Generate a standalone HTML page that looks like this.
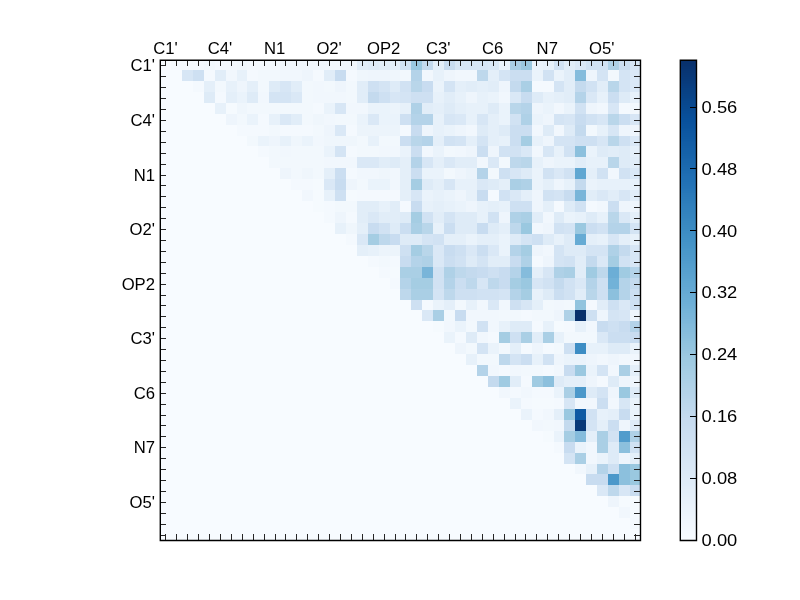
<!DOCTYPE html>
<html><head><meta charset="utf-8"><style>
html,body{margin:0;padding:0;background:#fff;width:800px;height:600px;overflow:hidden}
svg{display:block}
text{font-family:"Liberation Sans",sans-serif;font-size:16.67px;fill:#000}
</style></head><body>
<svg width="800" height="600" viewBox="0 0 800 600" shape-rendering="crispEdges">
<rect x="160" y="60" width="480" height="480" fill="#f7fbff"/>
<rect x="171" y="60" width="33" height="10" fill="#f4f9fe"/><rect x="204" y="60" width="11" height="10" fill="#f2f8fd"/><rect x="215" y="60" width="22" height="10" fill="#f4f9fe"/><rect x="237" y="60" width="10" height="10" fill="#f2f8fd"/><rect x="247" y="60" width="33" height="10" fill="#f4f9fe"/><rect x="280" y="60" width="77" height="10" fill="#f1f7fd"/><rect x="357" y="60" width="11" height="10" fill="#e1edf8"/><rect x="368" y="60" width="11" height="10" fill="#deebf7"/><rect x="379" y="60" width="11" height="10" fill="#e1edf8"/><rect x="390" y="60" width="10" height="10" fill="#e4eff9"/><rect x="400" y="60" width="11" height="10" fill="#d1e2f3"/><rect x="411" y="60" width="11" height="10" fill="#9ac8e0"/><rect x="422" y="60" width="11" height="10" fill="#c4daee"/><rect x="433" y="60" width="11" height="10" fill="#e4eff9"/><rect x="444" y="60" width="11" height="10" fill="#c8dcf0"/><rect x="455" y="60" width="33" height="10" fill="#d7e6f5"/><rect x="488" y="60" width="11" height="10" fill="#dae8f6"/><rect x="499" y="60" width="11" height="10" fill="#eaf3fb"/><rect x="510" y="60" width="11" height="10" fill="#aacfe5"/><rect x="521" y="60" width="11" height="10" fill="#9ac8e0"/><rect x="532" y="60" width="11" height="10" fill="#eaf3fb"/><rect x="543" y="60" width="11" height="10" fill="#e7f1fa"/><rect x="554" y="60" width="10" height="10" fill="#d1e2f3"/><rect x="564" y="60" width="11" height="10" fill="#e1edf8"/><rect x="575" y="60" width="11" height="10" fill="#dae8f6"/><rect x="586" y="60" width="22" height="10" fill="#d1e2f3"/><rect x="608" y="60" width="11" height="10" fill="#afd1e7"/><rect x="619" y="60" width="11" height="10" fill="#cbdef1"/><rect x="630" y="60" width="10" height="10" fill="#d7e6f5"/><rect x="182" y="70" width="11" height="11" fill="#d7e6f5"/><rect x="193" y="70" width="11" height="11" fill="#cee0f2"/><rect x="204" y="70" width="11" height="11" fill="#f4f9fe"/><rect x="215" y="70" width="11" height="11" fill="#e1edf8"/><rect x="226" y="70" width="11" height="11" fill="#f1f7fd"/><rect x="237" y="70" width="10" height="11" fill="#e7f1fa"/><rect x="247" y="70" width="11" height="11" fill="#f4f9fe"/><rect x="258" y="70" width="22" height="11" fill="#f2f8fd"/><rect x="280" y="70" width="22" height="11" fill="#f1f7fd"/><rect x="302" y="70" width="11" height="11" fill="#eef5fc"/><rect x="313" y="70" width="11" height="11" fill="#f4f9fe"/><rect x="324" y="70" width="11" height="11" fill="#e1edf8"/><rect x="335" y="70" width="11" height="11" fill="#c8dcf0"/><rect x="346" y="70" width="11" height="11" fill="#f4f9fe"/><rect x="357" y="70" width="11" height="11" fill="#eff6fc"/><rect x="368" y="70" width="22" height="11" fill="#eef5fc"/><rect x="390" y="70" width="10" height="11" fill="#eff6fc"/><rect x="400" y="70" width="11" height="11" fill="#f2f8fd"/><rect x="411" y="70" width="11" height="11" fill="#b4d3e9"/><rect x="422" y="70" width="11" height="11" fill="#f1f7fd"/><rect x="433" y="70" width="11" height="11" fill="#e7f1fa"/><rect x="444" y="70" width="11" height="11" fill="#eef5fc"/><rect x="455" y="70" width="22" height="11" fill="#f1f7fd"/><rect x="477" y="70" width="11" height="11" fill="#bed8ec"/><rect x="488" y="70" width="11" height="11" fill="#e4eff9"/><rect x="499" y="70" width="11" height="11" fill="#d4e4f4"/><rect x="510" y="70" width="22" height="11" fill="#cbdef1"/><rect x="532" y="70" width="11" height="11" fill="#eaf3fb"/><rect x="543" y="70" width="11" height="11" fill="#d1e2f3"/><rect x="554" y="70" width="10" height="11" fill="#eaf3fb"/><rect x="564" y="70" width="11" height="11" fill="#e1edf8"/><rect x="575" y="70" width="11" height="11" fill="#85bcdc"/><rect x="586" y="70" width="11" height="11" fill="#eef5fc"/><rect x="597" y="70" width="11" height="11" fill="#d4e4f4"/><rect x="608" y="70" width="11" height="11" fill="#f2f8fd"/><rect x="619" y="70" width="11" height="11" fill="#d4e4f4"/><rect x="630" y="70" width="10" height="11" fill="#dae8f6"/><rect x="193" y="81" width="11" height="11" fill="#f4f9fe"/><rect x="204" y="81" width="11" height="11" fill="#e4eff9"/><rect x="215" y="81" width="11" height="11" fill="#f2f8fd"/><rect x="226" y="81" width="11" height="11" fill="#e7f1fa"/><rect x="237" y="81" width="10" height="11" fill="#eef5fc"/><rect x="247" y="81" width="11" height="11" fill="#e4eff9"/><rect x="258" y="81" width="11" height="11" fill="#f2f8fd"/><rect x="269" y="81" width="11" height="11" fill="#deebf7"/><rect x="280" y="81" width="11" height="11" fill="#d7e6f5"/><rect x="291" y="81" width="11" height="11" fill="#e1edf8"/><rect x="302" y="81" width="11" height="11" fill="#f2f8fd"/><rect x="313" y="81" width="11" height="11" fill="#f1f7fd"/><rect x="324" y="81" width="11" height="11" fill="#f2f8fd"/><rect x="335" y="81" width="11" height="11" fill="#eef5fc"/><rect x="346" y="81" width="11" height="11" fill="#f2f8fd"/><rect x="357" y="81" width="11" height="11" fill="#e1edf8"/><rect x="368" y="81" width="11" height="11" fill="#cee0f2"/><rect x="379" y="81" width="11" height="11" fill="#d4e4f4"/><rect x="390" y="81" width="10" height="11" fill="#deebf7"/><rect x="400" y="81" width="11" height="11" fill="#d1e2f3"/><rect x="411" y="81" width="11" height="11" fill="#b9d6ea"/><rect x="422" y="81" width="11" height="11" fill="#c8dcf0"/><rect x="433" y="81" width="11" height="11" fill="#eaf3fb"/><rect x="444" y="81" width="11" height="11" fill="#d4e4f4"/><rect x="455" y="81" width="11" height="11" fill="#e4eff9"/><rect x="466" y="81" width="11" height="11" fill="#e1edf8"/><rect x="477" y="81" width="11" height="11" fill="#e4eff9"/><rect x="488" y="81" width="11" height="11" fill="#e1edf8"/><rect x="499" y="81" width="11" height="11" fill="#eef5fc"/><rect x="510" y="81" width="11" height="11" fill="#c4daee"/><rect x="521" y="81" width="11" height="11" fill="#aacfe5"/><rect x="532" y="81" width="22" height="11" fill="#f4f9fe"/><rect x="554" y="81" width="10" height="11" fill="#d4e4f4"/><rect x="564" y="81" width="11" height="11" fill="#e1edf8"/><rect x="575" y="81" width="11" height="11" fill="#c4daee"/><rect x="586" y="81" width="11" height="11" fill="#d1e2f3"/><rect x="597" y="81" width="11" height="11" fill="#e1edf8"/><rect x="608" y="81" width="11" height="11" fill="#b9d6ea"/><rect x="619" y="81" width="11" height="11" fill="#d4e4f4"/><rect x="630" y="81" width="10" height="11" fill="#dae8f6"/><rect x="204" y="92" width="11" height="11" fill="#deebf7"/><rect x="215" y="92" width="11" height="11" fill="#f4f9fe"/><rect x="226" y="92" width="11" height="11" fill="#e4eff9"/><rect x="237" y="92" width="10" height="11" fill="#eaf3fb"/><rect x="247" y="92" width="11" height="11" fill="#deebf7"/><rect x="258" y="92" width="11" height="11" fill="#f1f7fd"/><rect x="269" y="92" width="22" height="11" fill="#d4e4f4"/><rect x="291" y="92" width="11" height="11" fill="#dae8f6"/><rect x="302" y="92" width="11" height="11" fill="#f2f8fd"/><rect x="313" y="92" width="33" height="11" fill="#f1f7fd"/><rect x="346" y="92" width="11" height="11" fill="#f2f8fd"/><rect x="357" y="92" width="11" height="11" fill="#e1edf8"/><rect x="368" y="92" width="11" height="11" fill="#c4daee"/><rect x="379" y="92" width="11" height="11" fill="#cee0f2"/><rect x="390" y="92" width="10" height="11" fill="#d7e6f5"/><rect x="400" y="92" width="11" height="11" fill="#d4e4f4"/><rect x="411" y="92" width="22" height="11" fill="#cee0f2"/><rect x="433" y="92" width="11" height="11" fill="#e7f1fa"/><rect x="444" y="92" width="11" height="11" fill="#e1edf8"/><rect x="455" y="92" width="11" height="11" fill="#e7f1fa"/><rect x="466" y="92" width="11" height="11" fill="#eef5fc"/><rect x="477" y="92" width="11" height="11" fill="#e7f1fa"/><rect x="488" y="92" width="11" height="11" fill="#eaf3fb"/><rect x="499" y="92" width="11" height="11" fill="#f1f7fd"/><rect x="510" y="92" width="11" height="11" fill="#dae8f6"/><rect x="521" y="92" width="11" height="11" fill="#c8dcf0"/><rect x="532" y="92" width="11" height="11" fill="#deebf7"/><rect x="543" y="92" width="11" height="11" fill="#e7f1fa"/><rect x="554" y="92" width="10" height="11" fill="#e4eff9"/><rect x="564" y="92" width="11" height="11" fill="#e1edf8"/><rect x="575" y="92" width="11" height="11" fill="#b4d3e9"/><rect x="586" y="92" width="11" height="11" fill="#dae8f6"/><rect x="597" y="92" width="11" height="11" fill="#e7f1fa"/><rect x="608" y="92" width="11" height="11" fill="#cbdef1"/><rect x="619" y="92" width="11" height="11" fill="#deebf7"/><rect x="630" y="92" width="10" height="11" fill="#e7f1fa"/><rect x="215" y="103" width="11" height="11" fill="#e7f1fa"/><rect x="226" y="103" width="11" height="11" fill="#f5fafe"/><rect x="237" y="103" width="10" height="11" fill="#eff6fc"/><rect x="247" y="103" width="66" height="11" fill="#f2f8fd"/><rect x="313" y="103" width="11" height="11" fill="#f4f9fe"/><rect x="324" y="103" width="11" height="11" fill="#eaf3fb"/><rect x="335" y="103" width="11" height="11" fill="#d7e6f5"/><rect x="346" y="103" width="22" height="11" fill="#f1f7fd"/><rect x="368" y="103" width="22" height="11" fill="#eaf3fb"/><rect x="390" y="103" width="10" height="11" fill="#ecf4fb"/><rect x="400" y="103" width="11" height="11" fill="#e7f1fa"/><rect x="411" y="103" width="11" height="11" fill="#afd1e7"/><rect x="422" y="103" width="11" height="11" fill="#e1edf8"/><rect x="433" y="103" width="11" height="11" fill="#e4eff9"/><rect x="444" y="103" width="11" height="11" fill="#deebf7"/><rect x="455" y="103" width="11" height="11" fill="#e4eff9"/><rect x="466" y="103" width="22" height="11" fill="#e7f1fa"/><rect x="488" y="103" width="11" height="11" fill="#deebf7"/><rect x="499" y="103" width="11" height="11" fill="#eaf3fb"/><rect x="510" y="103" width="11" height="11" fill="#b9d6ea"/><rect x="521" y="103" width="11" height="11" fill="#b4d3e9"/><rect x="532" y="103" width="11" height="11" fill="#eef5fc"/><rect x="543" y="103" width="11" height="11" fill="#eaf3fb"/><rect x="554" y="103" width="10" height="11" fill="#f1f7fd"/><rect x="564" y="103" width="11" height="11" fill="#eaf3fb"/><rect x="575" y="103" width="11" height="11" fill="#d1e2f3"/><rect x="586" y="103" width="11" height="11" fill="#eef5fc"/><rect x="597" y="103" width="11" height="11" fill="#f1f7fd"/><rect x="608" y="103" width="11" height="11" fill="#d7e6f5"/><rect x="619" y="103" width="11" height="11" fill="#f4f9fe"/><rect x="630" y="103" width="10" height="11" fill="#f2f8fd"/><rect x="226" y="114" width="11" height="11" fill="#eef5fc"/><rect x="237" y="114" width="10" height="11" fill="#f2f8fd"/><rect x="247" y="114" width="11" height="11" fill="#eaf3fb"/><rect x="258" y="114" width="11" height="11" fill="#f4f9fe"/><rect x="269" y="114" width="11" height="11" fill="#e7f1fa"/><rect x="280" y="114" width="11" height="11" fill="#dae8f6"/><rect x="291" y="114" width="11" height="11" fill="#e1edf8"/><rect x="302" y="114" width="11" height="11" fill="#f2f8fd"/><rect x="313" y="114" width="11" height="11" fill="#eff6fc"/><rect x="324" y="114" width="11" height="11" fill="#f1f7fd"/><rect x="335" y="114" width="22" height="11" fill="#f2f8fd"/><rect x="357" y="114" width="11" height="11" fill="#eaf3fb"/><rect x="368" y="114" width="11" height="11" fill="#dae8f6"/><rect x="379" y="114" width="21" height="11" fill="#eaf3fb"/><rect x="400" y="114" width="11" height="11" fill="#cee0f2"/><rect x="411" y="114" width="22" height="11" fill="#b4d3e9"/><rect x="433" y="114" width="11" height="11" fill="#e7f1fa"/><rect x="444" y="114" width="11" height="11" fill="#d7e6f5"/><rect x="455" y="114" width="11" height="11" fill="#dae8f6"/><rect x="466" y="114" width="11" height="11" fill="#e7f1fa"/><rect x="477" y="114" width="11" height="11" fill="#d7e6f5"/><rect x="488" y="114" width="11" height="11" fill="#e4eff9"/><rect x="499" y="114" width="11" height="11" fill="#eaf3fb"/><rect x="510" y="114" width="11" height="11" fill="#d1e2f3"/><rect x="521" y="114" width="11" height="11" fill="#afd1e7"/><rect x="532" y="114" width="11" height="11" fill="#eaf3fb"/><rect x="543" y="114" width="11" height="11" fill="#eef5fc"/><rect x="554" y="114" width="10" height="11" fill="#d4e4f4"/><rect x="564" y="114" width="11" height="11" fill="#d7e6f5"/><rect x="575" y="114" width="11" height="11" fill="#c8dcf0"/><rect x="586" y="114" width="11" height="11" fill="#d1e2f3"/><rect x="597" y="114" width="11" height="11" fill="#d7e6f5"/><rect x="608" y="114" width="11" height="11" fill="#b9d6ea"/><rect x="619" y="114" width="11" height="11" fill="#cbdef1"/><rect x="630" y="114" width="10" height="11" fill="#d7e6f5"/><rect x="237" y="125" width="32" height="11" fill="#f4f9fe"/><rect x="269" y="125" width="11" height="11" fill="#f2f8fd"/><rect x="280" y="125" width="33" height="11" fill="#f4f9fe"/><rect x="313" y="125" width="11" height="11" fill="#f2f8fd"/><rect x="324" y="125" width="11" height="11" fill="#eef5fc"/><rect x="335" y="125" width="11" height="11" fill="#dae8f6"/><rect x="346" y="125" width="11" height="11" fill="#f4f9fe"/><rect x="357" y="125" width="43" height="11" fill="#ecf4fb"/><rect x="400" y="125" width="11" height="11" fill="#f4f9fe"/><rect x="411" y="125" width="11" height="11" fill="#c8dcf0"/><rect x="422" y="125" width="11" height="11" fill="#eef5fc"/><rect x="433" y="125" width="11" height="11" fill="#e7f1fa"/><rect x="444" y="125" width="11" height="11" fill="#eaf3fb"/><rect x="455" y="125" width="11" height="11" fill="#eef5fc"/><rect x="466" y="125" width="11" height="11" fill="#f1f7fd"/><rect x="477" y="125" width="11" height="11" fill="#deebf7"/><rect x="488" y="125" width="11" height="11" fill="#e4eff9"/><rect x="499" y="125" width="11" height="11" fill="#deebf7"/><rect x="510" y="125" width="22" height="11" fill="#cbdef1"/><rect x="532" y="125" width="11" height="11" fill="#f1f7fd"/><rect x="543" y="125" width="11" height="11" fill="#deebf7"/><rect x="554" y="125" width="10" height="11" fill="#f1f7fd"/><rect x="564" y="125" width="11" height="11" fill="#deebf7"/><rect x="575" y="125" width="11" height="11" fill="#c4daee"/><rect x="586" y="125" width="11" height="11" fill="#f2f8fd"/><rect x="597" y="125" width="11" height="11" fill="#e7f1fa"/><rect x="608" y="125" width="11" height="11" fill="#d7e6f5"/><rect x="619" y="125" width="21" height="11" fill="#eef5fc"/><rect x="247" y="136" width="11" height="10" fill="#f2f8fd"/><rect x="258" y="136" width="11" height="10" fill="#eaf3fb"/><rect x="269" y="136" width="11" height="10" fill="#eef5fc"/><rect x="280" y="136" width="11" height="10" fill="#e7f1fa"/><rect x="291" y="136" width="11" height="10" fill="#eff6fc"/><rect x="302" y="136" width="11" height="10" fill="#eaf3fb"/><rect x="313" y="136" width="11" height="10" fill="#f1f7fd"/><rect x="324" y="136" width="33" height="10" fill="#eff6fc"/><rect x="357" y="136" width="11" height="10" fill="#f2f8fd"/><rect x="368" y="136" width="11" height="10" fill="#e7f1fa"/><rect x="379" y="136" width="21" height="10" fill="#f2f8fd"/><rect x="400" y="136" width="11" height="10" fill="#cbdef1"/><rect x="411" y="136" width="11" height="10" fill="#b9d6ea"/><rect x="422" y="136" width="11" height="10" fill="#b4d3e9"/><rect x="433" y="136" width="11" height="10" fill="#e4eff9"/><rect x="444" y="136" width="11" height="10" fill="#d1e2f3"/><rect x="455" y="136" width="11" height="10" fill="#d4e4f4"/><rect x="466" y="136" width="11" height="10" fill="#e4eff9"/><rect x="477" y="136" width="11" height="10" fill="#d4e4f4"/><rect x="488" y="136" width="11" height="10" fill="#e4eff9"/><rect x="499" y="136" width="11" height="10" fill="#e7f1fa"/><rect x="510" y="136" width="11" height="10" fill="#cbdef1"/><rect x="521" y="136" width="11" height="10" fill="#a5cde3"/><rect x="532" y="136" width="11" height="10" fill="#e7f1fa"/><rect x="543" y="136" width="11" height="10" fill="#eef5fc"/><rect x="554" y="136" width="21" height="10" fill="#d4e4f4"/><rect x="575" y="136" width="22" height="10" fill="#cee0f2"/><rect x="597" y="136" width="11" height="10" fill="#d7e6f5"/><rect x="608" y="136" width="11" height="10" fill="#b9d6ea"/><rect x="619" y="136" width="11" height="10" fill="#cee0f2"/><rect x="630" y="136" width="10" height="10" fill="#dae8f6"/><rect x="258" y="146" width="11" height="11" fill="#f4f9fe"/><rect x="269" y="146" width="11" height="11" fill="#f2f8fd"/><rect x="280" y="146" width="11" height="11" fill="#f1f7fd"/><rect x="291" y="146" width="33" height="11" fill="#f2f8fd"/><rect x="324" y="146" width="11" height="11" fill="#eaf3fb"/><rect x="335" y="146" width="11" height="11" fill="#d4e4f4"/><rect x="346" y="146" width="11" height="11" fill="#f4f9fe"/><rect x="357" y="146" width="22" height="11" fill="#f2f8fd"/><rect x="379" y="146" width="21" height="11" fill="#f1f7fd"/><rect x="400" y="146" width="11" height="11" fill="#eaf3fb"/><rect x="411" y="146" width="11" height="11" fill="#cbdef1"/><rect x="422" y="146" width="11" height="11" fill="#f1f7fd"/><rect x="433" y="146" width="11" height="11" fill="#eaf3fb"/><rect x="444" y="146" width="11" height="11" fill="#f2f8fd"/><rect x="455" y="146" width="11" height="11" fill="#f1f7fd"/><rect x="466" y="146" width="11" height="11" fill="#eef5fc"/><rect x="477" y="146" width="11" height="11" fill="#cbdef1"/><rect x="488" y="146" width="11" height="11" fill="#eef5fc"/><rect x="499" y="146" width="22" height="11" fill="#d1e2f3"/><rect x="521" y="146" width="11" height="11" fill="#dae8f6"/><rect x="532" y="146" width="11" height="11" fill="#f1f7fd"/><rect x="543" y="146" width="11" height="11" fill="#d7e6f5"/><rect x="554" y="146" width="10" height="11" fill="#e7f1fa"/><rect x="564" y="146" width="11" height="11" fill="#d1e2f3"/><rect x="575" y="146" width="11" height="11" fill="#8cc0dd"/><rect x="586" y="146" width="11" height="11" fill="#eaf3fb"/><rect x="597" y="146" width="11" height="11" fill="#deebf7"/><rect x="608" y="146" width="11" height="11" fill="#e1edf8"/><rect x="619" y="146" width="11" height="11" fill="#deebf7"/><rect x="630" y="146" width="10" height="11" fill="#e4eff9"/><rect x="269" y="157" width="55" height="11" fill="#f2f8fd"/><rect x="324" y="157" width="33" height="11" fill="#f1f7fd"/><rect x="357" y="157" width="22" height="11" fill="#dae8f6"/><rect x="379" y="157" width="11" height="11" fill="#e1edf8"/><rect x="390" y="157" width="10" height="11" fill="#deebf7"/><rect x="400" y="157" width="11" height="11" fill="#e4eff9"/><rect x="411" y="157" width="11" height="11" fill="#b4d3e9"/><rect x="422" y="157" width="11" height="11" fill="#d7e6f5"/><rect x="433" y="157" width="11" height="11" fill="#e4eff9"/><rect x="444" y="157" width="11" height="11" fill="#dae8f6"/><rect x="455" y="157" width="22" height="11" fill="#e1edf8"/><rect x="477" y="157" width="11" height="11" fill="#f1f7fd"/><rect x="488" y="157" width="11" height="11" fill="#dae8f6"/><rect x="499" y="157" width="11" height="11" fill="#f2f8fd"/><rect x="510" y="157" width="11" height="11" fill="#bed8ec"/><rect x="521" y="157" width="11" height="11" fill="#b9d6ea"/><rect x="532" y="157" width="11" height="11" fill="#e7f1fa"/><rect x="543" y="157" width="11" height="11" fill="#eef5fc"/><rect x="554" y="157" width="21" height="11" fill="#eaf3fb"/><rect x="575" y="157" width="11" height="11" fill="#e1edf8"/><rect x="586" y="157" width="22" height="11" fill="#e7f1fa"/><rect x="608" y="157" width="11" height="11" fill="#b9d6ea"/><rect x="619" y="157" width="11" height="11" fill="#deebf7"/><rect x="630" y="157" width="10" height="11" fill="#e1edf8"/><rect x="280" y="168" width="11" height="11" fill="#eef5fc"/><rect x="291" y="168" width="11" height="11" fill="#f2f8fd"/><rect x="302" y="168" width="11" height="11" fill="#eff6fc"/><rect x="313" y="168" width="11" height="11" fill="#f2f8fd"/><rect x="324" y="168" width="11" height="11" fill="#e4eff9"/><rect x="335" y="168" width="11" height="11" fill="#cbdef1"/><rect x="346" y="168" width="11" height="11" fill="#f4f9fe"/><rect x="357" y="168" width="22" height="11" fill="#f1f7fd"/><rect x="379" y="168" width="11" height="11" fill="#eff6fc"/><rect x="390" y="168" width="10" height="11" fill="#f1f7fd"/><rect x="400" y="168" width="11" height="11" fill="#e4eff9"/><rect x="411" y="168" width="11" height="11" fill="#cbdef1"/><rect x="422" y="168" width="22" height="11" fill="#eaf3fb"/><rect x="444" y="168" width="11" height="11" fill="#f2f8fd"/><rect x="455" y="168" width="11" height="11" fill="#eef5fc"/><rect x="466" y="168" width="11" height="11" fill="#eaf3fb"/><rect x="477" y="168" width="11" height="11" fill="#b4d3e9"/><rect x="488" y="168" width="11" height="11" fill="#f2f8fd"/><rect x="499" y="168" width="11" height="11" fill="#cee0f2"/><rect x="510" y="168" width="11" height="11" fill="#d7e6f5"/><rect x="521" y="168" width="11" height="11" fill="#deebf7"/><rect x="532" y="168" width="11" height="11" fill="#eaf3fb"/><rect x="543" y="168" width="11" height="11" fill="#d1e2f3"/><rect x="554" y="168" width="10" height="11" fill="#dae8f6"/><rect x="564" y="168" width="11" height="11" fill="#d1e2f3"/><rect x="575" y="168" width="11" height="11" fill="#60a7d2"/><rect x="586" y="168" width="11" height="11" fill="#e4eff9"/><rect x="597" y="168" width="11" height="11" fill="#d1e2f3"/><rect x="608" y="168" width="11" height="11" fill="#f1f7fd"/><rect x="619" y="168" width="11" height="11" fill="#d1e2f3"/><rect x="630" y="168" width="10" height="11" fill="#dae8f6"/><rect x="291" y="179" width="22" height="11" fill="#f4f9fe"/><rect x="313" y="179" width="11" height="11" fill="#f5fafe"/><rect x="324" y="179" width="11" height="11" fill="#dae8f6"/><rect x="335" y="179" width="11" height="11" fill="#c8dcf0"/><rect x="346" y="179" width="11" height="11" fill="#eef5fc"/><rect x="357" y="179" width="11" height="11" fill="#f2f8fd"/><rect x="368" y="179" width="22" height="11" fill="#eaf3fb"/><rect x="390" y="179" width="10" height="11" fill="#f1f7fd"/><rect x="400" y="179" width="11" height="11" fill="#e4eff9"/><rect x="411" y="179" width="11" height="11" fill="#a5cde3"/><rect x="422" y="179" width="11" height="11" fill="#deebf7"/><rect x="433" y="179" width="11" height="11" fill="#e4eff9"/><rect x="444" y="179" width="11" height="11" fill="#d7e6f5"/><rect x="455" y="179" width="22" height="11" fill="#e7f1fa"/><rect x="477" y="179" width="11" height="11" fill="#dae8f6"/><rect x="488" y="179" width="11" height="11" fill="#deebf7"/><rect x="499" y="179" width="11" height="11" fill="#e4eff9"/><rect x="510" y="179" width="11" height="11" fill="#aacfe5"/><rect x="521" y="179" width="11" height="11" fill="#afd1e7"/><rect x="532" y="179" width="11" height="11" fill="#eaf3fb"/><rect x="543" y="179" width="11" height="11" fill="#e4eff9"/><rect x="554" y="179" width="10" height="11" fill="#eef5fc"/><rect x="564" y="179" width="11" height="11" fill="#e7f1fa"/><rect x="575" y="179" width="11" height="11" fill="#c4daee"/><rect x="586" y="179" width="11" height="11" fill="#eaf3fb"/><rect x="597" y="179" width="43" height="11" fill="#e7f1fa"/><rect x="302" y="190" width="11" height="11" fill="#f1f7fd"/><rect x="313" y="190" width="11" height="11" fill="#f5fafe"/><rect x="324" y="190" width="11" height="11" fill="#e7f1fa"/><rect x="335" y="190" width="11" height="11" fill="#cee0f2"/><rect x="346" y="190" width="11" height="11" fill="#f5fafe"/><rect x="357" y="190" width="43" height="11" fill="#f4f9fe"/><rect x="400" y="190" width="11" height="11" fill="#e4eff9"/><rect x="411" y="190" width="11" height="11" fill="#d7e6f5"/><rect x="422" y="190" width="11" height="11" fill="#eaf3fb"/><rect x="433" y="190" width="11" height="11" fill="#e7f1fa"/><rect x="444" y="190" width="11" height="11" fill="#eaf3fb"/><rect x="455" y="190" width="11" height="11" fill="#eef5fc"/><rect x="466" y="190" width="11" height="11" fill="#e7f1fa"/><rect x="477" y="190" width="11" height="11" fill="#c8dcf0"/><rect x="488" y="190" width="11" height="11" fill="#f4f9fe"/><rect x="499" y="190" width="11" height="11" fill="#d1e2f3"/><rect x="510" y="190" width="11" height="11" fill="#dae8f6"/><rect x="521" y="190" width="11" height="11" fill="#e4eff9"/><rect x="532" y="190" width="11" height="11" fill="#eef5fc"/><rect x="543" y="190" width="11" height="11" fill="#d1e2f3"/><rect x="554" y="190" width="10" height="11" fill="#d4e4f4"/><rect x="564" y="190" width="11" height="11" fill="#c8dcf0"/><rect x="575" y="190" width="11" height="11" fill="#79b5d9"/><rect x="586" y="190" width="11" height="11" fill="#e1edf8"/><rect x="597" y="190" width="11" height="11" fill="#dae8f6"/><rect x="608" y="190" width="11" height="11" fill="#e1edf8"/><rect x="619" y="190" width="11" height="11" fill="#d7e6f5"/><rect x="630" y="190" width="10" height="11" fill="#e1edf8"/><rect x="313" y="201" width="11" height="11" fill="#f5fafe"/><rect x="324" y="201" width="11" height="11" fill="#f4f9fe"/><rect x="335" y="201" width="22" height="11" fill="#f2f8fd"/><rect x="357" y="201" width="22" height="11" fill="#e1edf8"/><rect x="379" y="201" width="11" height="11" fill="#e7f1fa"/><rect x="390" y="201" width="10" height="11" fill="#e1edf8"/><rect x="400" y="201" width="11" height="11" fill="#f4f9fe"/><rect x="411" y="201" width="11" height="11" fill="#c8dcf0"/><rect x="422" y="201" width="11" height="11" fill="#e7f1fa"/><rect x="433" y="201" width="11" height="11" fill="#e4eff9"/><rect x="444" y="201" width="11" height="11" fill="#e7f1fa"/><rect x="455" y="201" width="11" height="11" fill="#eaf3fb"/><rect x="466" y="201" width="11" height="11" fill="#eef5fc"/><rect x="477" y="201" width="11" height="11" fill="#e7f1fa"/><rect x="488" y="201" width="11" height="11" fill="#e4eff9"/><rect x="499" y="201" width="11" height="11" fill="#e7f1fa"/><rect x="510" y="201" width="22" height="11" fill="#cee0f2"/><rect x="532" y="201" width="11" height="11" fill="#eef5fc"/><rect x="543" y="201" width="11" height="11" fill="#e4eff9"/><rect x="554" y="201" width="10" height="11" fill="#f4f9fe"/><rect x="564" y="201" width="11" height="11" fill="#deebf7"/><rect x="575" y="201" width="11" height="11" fill="#d1e2f3"/><rect x="586" y="201" width="11" height="11" fill="#f4f9fe"/><rect x="597" y="201" width="11" height="11" fill="#f1f7fd"/><rect x="608" y="201" width="11" height="11" fill="#cbdef1"/><rect x="619" y="201" width="21" height="11" fill="#eef5fc"/><rect x="324" y="212" width="11" height="11" fill="#f4f9fe"/><rect x="335" y="212" width="11" height="11" fill="#eef5fc"/><rect x="346" y="212" width="11" height="11" fill="#f4f9fe"/><rect x="357" y="212" width="11" height="11" fill="#e1edf8"/><rect x="368" y="212" width="11" height="11" fill="#dae8f6"/><rect x="379" y="212" width="21" height="11" fill="#e1edf8"/><rect x="400" y="212" width="11" height="11" fill="#deebf7"/><rect x="411" y="212" width="11" height="11" fill="#a5cde3"/><rect x="422" y="212" width="11" height="11" fill="#d1e2f3"/><rect x="433" y="212" width="11" height="11" fill="#e1edf8"/><rect x="444" y="212" width="11" height="11" fill="#d4e4f4"/><rect x="455" y="212" width="22" height="11" fill="#deebf7"/><rect x="477" y="212" width="11" height="11" fill="#e7f1fa"/><rect x="488" y="212" width="11" height="11" fill="#d1e2f3"/><rect x="499" y="212" width="11" height="11" fill="#eef5fc"/><rect x="510" y="212" width="11" height="11" fill="#afd1e7"/><rect x="521" y="212" width="11" height="11" fill="#aacfe5"/><rect x="532" y="212" width="11" height="11" fill="#e1edf8"/><rect x="543" y="212" width="11" height="11" fill="#f1f7fd"/><rect x="554" y="212" width="10" height="11" fill="#deebf7"/><rect x="564" y="212" width="11" height="11" fill="#eaf3fb"/><rect x="575" y="212" width="11" height="11" fill="#e7f1fa"/><rect x="586" y="212" width="11" height="11" fill="#deebf7"/><rect x="597" y="212" width="11" height="11" fill="#e7f1fa"/><rect x="608" y="212" width="11" height="11" fill="#b9d6ea"/><rect x="619" y="212" width="11" height="11" fill="#dae8f6"/><rect x="630" y="212" width="10" height="11" fill="#e4eff9"/><rect x="335" y="223" width="11" height="11" fill="#e7f1fa"/><rect x="346" y="223" width="11" height="11" fill="#eff6fc"/><rect x="357" y="223" width="11" height="11" fill="#e4eff9"/><rect x="368" y="223" width="11" height="11" fill="#c8dcf0"/><rect x="379" y="223" width="11" height="11" fill="#d1e2f3"/><rect x="390" y="223" width="10" height="11" fill="#deebf7"/><rect x="400" y="223" width="11" height="11" fill="#cbdef1"/><rect x="411" y="223" width="11" height="11" fill="#aacfe5"/><rect x="422" y="223" width="11" height="11" fill="#b9d6ea"/><rect x="433" y="223" width="11" height="11" fill="#e7f1fa"/><rect x="444" y="223" width="11" height="11" fill="#cbdef1"/><rect x="455" y="223" width="22" height="11" fill="#deebf7"/><rect x="477" y="223" width="11" height="11" fill="#c8dcf0"/><rect x="488" y="223" width="11" height="11" fill="#deebf7"/><rect x="499" y="223" width="11" height="11" fill="#e4eff9"/><rect x="510" y="223" width="11" height="11" fill="#bed8ec"/><rect x="521" y="223" width="11" height="11" fill="#9ac8e0"/><rect x="532" y="223" width="11" height="11" fill="#f1f7fd"/><rect x="543" y="223" width="11" height="11" fill="#eef5fc"/><rect x="554" y="223" width="10" height="11" fill="#d1e2f3"/><rect x="564" y="223" width="11" height="11" fill="#d4e4f4"/><rect x="575" y="223" width="11" height="11" fill="#9ac8e0"/><rect x="586" y="223" width="11" height="11" fill="#cbdef1"/><rect x="597" y="223" width="11" height="11" fill="#d1e2f3"/><rect x="608" y="223" width="22" height="11" fill="#b4d3e9"/><rect x="630" y="223" width="10" height="11" fill="#d4e4f4"/><rect x="346" y="234" width="11" height="11" fill="#f4f9fe"/><rect x="357" y="234" width="11" height="11" fill="#dae8f6"/><rect x="368" y="234" width="11" height="11" fill="#a5cde3"/><rect x="379" y="234" width="11" height="11" fill="#bed8ec"/><rect x="390" y="234" width="10" height="11" fill="#c8dcf0"/><rect x="400" y="234" width="22" height="11" fill="#deebf7"/><rect x="422" y="234" width="11" height="11" fill="#d4e4f4"/><rect x="433" y="234" width="11" height="11" fill="#d1e2f3"/><rect x="444" y="234" width="22" height="11" fill="#e4eff9"/><rect x="466" y="234" width="11" height="11" fill="#eaf3fb"/><rect x="477" y="234" width="22" height="11" fill="#e4eff9"/><rect x="499" y="234" width="11" height="11" fill="#eaf3fb"/><rect x="510" y="234" width="11" height="11" fill="#deebf7"/><rect x="521" y="234" width="11" height="11" fill="#d4e4f4"/><rect x="532" y="234" width="11" height="11" fill="#cee0f2"/><rect x="543" y="234" width="11" height="11" fill="#deebf7"/><rect x="554" y="234" width="10" height="11" fill="#e7f1fa"/><rect x="564" y="234" width="11" height="11" fill="#deebf7"/><rect x="575" y="234" width="11" height="11" fill="#66abd4"/><rect x="586" y="234" width="11" height="11" fill="#e4eff9"/><rect x="597" y="234" width="11" height="11" fill="#e7f1fa"/><rect x="608" y="234" width="11" height="11" fill="#d7e6f5"/><rect x="619" y="234" width="11" height="11" fill="#e4eff9"/><rect x="630" y="234" width="10" height="11" fill="#e7f1fa"/><rect x="357" y="245" width="11" height="11" fill="#e4eff9"/><rect x="368" y="245" width="11" height="11" fill="#e7f1fa"/><rect x="379" y="245" width="21" height="11" fill="#ecf4fb"/><rect x="400" y="245" width="11" height="11" fill="#cee0f2"/><rect x="411" y="245" width="11" height="11" fill="#a5cde3"/><rect x="422" y="245" width="11" height="11" fill="#b9d6ea"/><rect x="433" y="245" width="11" height="11" fill="#dae8f6"/><rect x="444" y="245" width="11" height="11" fill="#c8dcf0"/><rect x="455" y="245" width="11" height="11" fill="#cee0f2"/><rect x="466" y="245" width="11" height="11" fill="#dae8f6"/><rect x="477" y="245" width="11" height="11" fill="#cbdef1"/><rect x="488" y="245" width="11" height="11" fill="#dae8f6"/><rect x="499" y="245" width="11" height="11" fill="#eaf3fb"/><rect x="510" y="245" width="11" height="11" fill="#b4d3e9"/><rect x="521" y="245" width="11" height="11" fill="#a5cde3"/><rect x="532" y="245" width="11" height="11" fill="#eef5fc"/><rect x="543" y="245" width="11" height="11" fill="#f1f7fd"/><rect x="554" y="245" width="10" height="11" fill="#d4e4f4"/><rect x="564" y="245" width="22" height="11" fill="#deebf7"/><rect x="586" y="245" width="22" height="11" fill="#d4e4f4"/><rect x="608" y="245" width="11" height="11" fill="#afd1e7"/><rect x="619" y="245" width="11" height="11" fill="#c4daee"/><rect x="630" y="245" width="10" height="11" fill="#d7e6f5"/><rect x="368" y="256" width="11" height="11" fill="#f4f9fe"/><rect x="379" y="256" width="11" height="11" fill="#f2f8fd"/><rect x="390" y="256" width="10" height="11" fill="#f4f9fe"/><rect x="400" y="256" width="11" height="11" fill="#c8dcf0"/><rect x="411" y="256" width="11" height="11" fill="#b4d3e9"/><rect x="422" y="256" width="11" height="11" fill="#afd1e7"/><rect x="433" y="256" width="11" height="11" fill="#dae8f6"/><rect x="444" y="256" width="11" height="11" fill="#cbdef1"/><rect x="455" y="256" width="11" height="11" fill="#d1e2f3"/><rect x="466" y="256" width="11" height="11" fill="#deebf7"/><rect x="477" y="256" width="11" height="11" fill="#d4e4f4"/><rect x="488" y="256" width="22" height="11" fill="#e1edf8"/><rect x="510" y="256" width="11" height="11" fill="#c8dcf0"/><rect x="521" y="256" width="11" height="11" fill="#afd1e7"/><rect x="532" y="256" width="11" height="11" fill="#f4f9fe"/><rect x="543" y="256" width="11" height="11" fill="#eef5fc"/><rect x="554" y="256" width="10" height="11" fill="#d4e4f4"/><rect x="564" y="256" width="11" height="11" fill="#d1e2f3"/><rect x="575" y="256" width="11" height="11" fill="#e1edf8"/><rect x="586" y="256" width="11" height="11" fill="#c4daee"/><rect x="597" y="256" width="11" height="11" fill="#dae8f6"/><rect x="608" y="256" width="11" height="11" fill="#a5cde3"/><rect x="619" y="256" width="11" height="11" fill="#d1e2f3"/><rect x="630" y="256" width="10" height="11" fill="#d7e6f5"/><rect x="379" y="267" width="11" height="11" fill="#f4f9fe"/><rect x="390" y="267" width="10" height="11" fill="#f5fafe"/><rect x="400" y="267" width="22" height="11" fill="#aacfe5"/><rect x="422" y="267" width="11" height="11" fill="#79b5d9"/><rect x="433" y="267" width="11" height="11" fill="#d1e2f3"/><rect x="444" y="267" width="11" height="11" fill="#afd1e7"/><rect x="455" y="267" width="11" height="11" fill="#bed8ec"/><rect x="466" y="267" width="11" height="11" fill="#c4daee"/><rect x="477" y="267" width="11" height="11" fill="#c8dcf0"/><rect x="488" y="267" width="11" height="11" fill="#cee0f2"/><rect x="499" y="267" width="11" height="11" fill="#c8dcf0"/><rect x="510" y="267" width="11" height="11" fill="#b4d3e9"/><rect x="521" y="267" width="11" height="11" fill="#85bcdc"/><rect x="532" y="267" width="11" height="11" fill="#e4eff9"/><rect x="543" y="267" width="11" height="11" fill="#d7e6f5"/><rect x="554" y="267" width="10" height="11" fill="#afd1e7"/><rect x="564" y="267" width="11" height="11" fill="#aacfe5"/><rect x="575" y="267" width="11" height="11" fill="#e1edf8"/><rect x="586" y="267" width="11" height="11" fill="#a0cbe2"/><rect x="597" y="267" width="11" height="11" fill="#bed8ec"/><rect x="608" y="267" width="11" height="11" fill="#6caed6"/><rect x="619" y="267" width="11" height="11" fill="#a0cbe2"/><rect x="630" y="267" width="10" height="11" fill="#b4d3e9"/><rect x="390" y="278" width="10" height="11" fill="#f4f9fe"/><rect x="400" y="278" width="11" height="11" fill="#b4d3e9"/><rect x="411" y="278" width="22" height="11" fill="#a5cde3"/><rect x="433" y="278" width="11" height="11" fill="#d1e2f3"/><rect x="444" y="278" width="11" height="11" fill="#b4d3e9"/><rect x="455" y="278" width="11" height="11" fill="#cbdef1"/><rect x="466" y="278" width="11" height="11" fill="#bed8ec"/><rect x="477" y="278" width="11" height="11" fill="#d7e6f5"/><rect x="488" y="278" width="11" height="11" fill="#bed8ec"/><rect x="499" y="278" width="11" height="11" fill="#c8dcf0"/><rect x="510" y="278" width="11" height="11" fill="#a5cde3"/><rect x="521" y="278" width="11" height="11" fill="#9ac8e0"/><rect x="532" y="278" width="11" height="11" fill="#d7e6f5"/><rect x="543" y="278" width="11" height="11" fill="#d1e2f3"/><rect x="554" y="278" width="10" height="11" fill="#c4daee"/><rect x="564" y="278" width="11" height="11" fill="#d1e2f3"/><rect x="575" y="278" width="11" height="11" fill="#dae8f6"/><rect x="586" y="278" width="11" height="11" fill="#b4d3e9"/><rect x="597" y="278" width="11" height="11" fill="#cee0f2"/><rect x="608" y="278" width="11" height="11" fill="#72b2d8"/><rect x="619" y="278" width="11" height="11" fill="#b4d3e9"/><rect x="630" y="278" width="10" height="11" fill="#c4daee"/><rect x="400" y="289" width="11" height="11" fill="#bed8ec"/><rect x="411" y="289" width="22" height="11" fill="#aacfe5"/><rect x="433" y="289" width="11" height="11" fill="#d4e4f4"/><rect x="444" y="289" width="11" height="11" fill="#bed8ec"/><rect x="455" y="289" width="22" height="11" fill="#cee0f2"/><rect x="477" y="289" width="22" height="11" fill="#d1e2f3"/><rect x="499" y="289" width="11" height="11" fill="#d4e4f4"/><rect x="510" y="289" width="11" height="11" fill="#b4d3e9"/><rect x="521" y="289" width="11" height="11" fill="#a5cde3"/><rect x="532" y="289" width="11" height="11" fill="#e7f1fa"/><rect x="543" y="289" width="11" height="11" fill="#deebf7"/><rect x="554" y="289" width="10" height="11" fill="#cbdef1"/><rect x="564" y="289" width="11" height="11" fill="#d1e2f3"/><rect x="575" y="289" width="11" height="11" fill="#e1edf8"/><rect x="586" y="289" width="11" height="11" fill="#b9d6ea"/><rect x="597" y="289" width="11" height="11" fill="#cee0f2"/><rect x="608" y="289" width="11" height="11" fill="#8cc0dd"/><rect x="619" y="289" width="11" height="11" fill="#b4d3e9"/><rect x="630" y="289" width="10" height="11" fill="#cbdef1"/><rect x="411" y="300" width="11" height="10" fill="#cee0f2"/><rect x="422" y="300" width="11" height="10" fill="#f4f9fe"/><rect x="433" y="300" width="11" height="10" fill="#eaf3fb"/><rect x="444" y="300" width="11" height="10" fill="#e4eff9"/><rect x="455" y="300" width="11" height="10" fill="#f2f8fd"/><rect x="466" y="300" width="11" height="10" fill="#e7f1fa"/><rect x="477" y="300" width="11" height="10" fill="#f1f7fd"/><rect x="488" y="300" width="11" height="10" fill="#dae8f6"/><rect x="499" y="300" width="11" height="10" fill="#f1f7fd"/><rect x="510" y="300" width="11" height="10" fill="#cee0f2"/><rect x="521" y="300" width="11" height="10" fill="#d7e6f5"/><rect x="532" y="300" width="11" height="10" fill="#e4eff9"/><rect x="543" y="300" width="11" height="10" fill="#f2f8fd"/><rect x="554" y="300" width="10" height="10" fill="#f1f7fd"/><rect x="564" y="300" width="11" height="10" fill="#f2f8fd"/><rect x="575" y="300" width="11" height="10" fill="#92c4de"/><rect x="586" y="300" width="11" height="10" fill="#f4f9fe"/><rect x="597" y="300" width="11" height="10" fill="#e1edf8"/><rect x="608" y="300" width="11" height="10" fill="#cee0f2"/><rect x="619" y="300" width="11" height="10" fill="#dae8f6"/><rect x="630" y="300" width="10" height="10" fill="#cee0f2"/><rect x="422" y="310" width="11" height="11" fill="#dae8f6"/><rect x="433" y="310" width="11" height="11" fill="#aacfe5"/><rect x="444" y="310" width="11" height="11" fill="#f2f8fd"/><rect x="455" y="310" width="11" height="11" fill="#c8dcf0"/><rect x="466" y="310" width="33" height="11" fill="#f1f7fd"/><rect x="499" y="310" width="22" height="11" fill="#f2f8fd"/><rect x="521" y="310" width="11" height="11" fill="#f4f9fe"/><rect x="532" y="310" width="22" height="11" fill="#f2f8fd"/><rect x="554" y="310" width="10" height="11" fill="#eef5fc"/><rect x="564" y="310" width="11" height="11" fill="#afd1e7"/><rect x="575" y="310" width="11" height="11" fill="#08306b"/><rect x="586" y="310" width="11" height="11" fill="#cee0f2"/><rect x="597" y="310" width="11" height="11" fill="#eef5fc"/><rect x="608" y="310" width="11" height="11" fill="#d4e4f4"/><rect x="619" y="310" width="11" height="11" fill="#d7e6f5"/><rect x="630" y="310" width="10" height="11" fill="#eef5fc"/><rect x="433" y="321" width="11" height="11" fill="#f5fafe"/><rect x="444" y="321" width="11" height="11" fill="#f1f7fd"/><rect x="455" y="321" width="11" height="11" fill="#eaf3fb"/><rect x="466" y="321" width="11" height="11" fill="#f2f8fd"/><rect x="477" y="321" width="11" height="11" fill="#d1e2f3"/><rect x="488" y="321" width="11" height="11" fill="#f1f7fd"/><rect x="499" y="321" width="11" height="11" fill="#e7f1fa"/><rect x="510" y="321" width="22" height="11" fill="#deebf7"/><rect x="532" y="321" width="11" height="11" fill="#f4f9fe"/><rect x="543" y="321" width="11" height="11" fill="#e7f1fa"/><rect x="554" y="321" width="10" height="11" fill="#f5fafe"/><rect x="564" y="321" width="11" height="11" fill="#f4f9fe"/><rect x="575" y="321" width="11" height="11" fill="#e7f1fa"/><rect x="586" y="321" width="11" height="11" fill="#f1f7fd"/><rect x="597" y="321" width="11" height="11" fill="#c8dcf0"/><rect x="608" y="321" width="11" height="11" fill="#cee0f2"/><rect x="619" y="321" width="11" height="11" fill="#c8dcf0"/><rect x="630" y="321" width="10" height="11" fill="#b4d3e9"/><rect x="444" y="332" width="11" height="11" fill="#eaf3fb"/><rect x="455" y="332" width="11" height="11" fill="#f4f9fe"/><rect x="466" y="332" width="11" height="11" fill="#deebf7"/><rect x="477" y="332" width="11" height="11" fill="#f1f7fd"/><rect x="488" y="332" width="11" height="11" fill="#f4f9fe"/><rect x="499" y="332" width="11" height="11" fill="#a5cde3"/><rect x="510" y="332" width="11" height="11" fill="#cee0f2"/><rect x="521" y="332" width="11" height="11" fill="#aacfe5"/><rect x="532" y="332" width="11" height="11" fill="#e1edf8"/><rect x="543" y="332" width="11" height="11" fill="#aacfe5"/><rect x="554" y="332" width="10" height="11" fill="#e7f1fa"/><rect x="564" y="332" width="33" height="11" fill="#f2f8fd"/><rect x="597" y="332" width="11" height="11" fill="#dae8f6"/><rect x="608" y="332" width="22" height="11" fill="#cbdef1"/><rect x="630" y="332" width="10" height="11" fill="#c8dcf0"/><rect x="455" y="343" width="11" height="11" fill="#eef5fc"/><rect x="466" y="343" width="11" height="11" fill="#f2f8fd"/><rect x="477" y="343" width="11" height="11" fill="#d4e4f4"/><rect x="488" y="343" width="11" height="11" fill="#eaf3fb"/><rect x="499" y="343" width="11" height="11" fill="#f2f8fd"/><rect x="510" y="343" width="11" height="11" fill="#e4eff9"/><rect x="521" y="343" width="11" height="11" fill="#f4f9fe"/><rect x="532" y="343" width="11" height="11" fill="#eef5fc"/><rect x="543" y="343" width="11" height="11" fill="#f4f9fe"/><rect x="554" y="343" width="10" height="11" fill="#f2f8fd"/><rect x="564" y="343" width="11" height="11" fill="#cee0f2"/><rect x="575" y="343" width="11" height="11" fill="#3d8dc4"/><rect x="586" y="343" width="22" height="11" fill="#e7f1fa"/><rect x="608" y="343" width="22" height="11" fill="#deebf7"/><rect x="630" y="343" width="10" height="11" fill="#eaf3fb"/><rect x="466" y="354" width="11" height="11" fill="#e7f1fa"/><rect x="477" y="354" width="22" height="11" fill="#f2f8fd"/><rect x="499" y="354" width="11" height="11" fill="#bed8ec"/><rect x="510" y="354" width="11" height="11" fill="#d4e4f4"/><rect x="521" y="354" width="11" height="11" fill="#cbdef1"/><rect x="532" y="354" width="11" height="11" fill="#e7f1fa"/><rect x="543" y="354" width="11" height="11" fill="#d1e2f3"/><rect x="554" y="354" width="10" height="11" fill="#eef5fc"/><rect x="564" y="354" width="22" height="11" fill="#eaf3fb"/><rect x="586" y="354" width="11" height="11" fill="#eef5fc"/><rect x="597" y="354" width="11" height="11" fill="#f1f7fd"/><rect x="608" y="354" width="11" height="11" fill="#eef5fc"/><rect x="619" y="354" width="21" height="11" fill="#f1f7fd"/><rect x="477" y="365" width="11" height="11" fill="#b4d3e9"/><rect x="488" y="365" width="11" height="11" fill="#f1f7fd"/><rect x="499" y="365" width="11" height="11" fill="#f4f9fe"/><rect x="510" y="365" width="11" height="11" fill="#f1f7fd"/><rect x="521" y="365" width="22" height="11" fill="#f2f8fd"/><rect x="543" y="365" width="11" height="11" fill="#f4f9fe"/><rect x="554" y="365" width="10" height="11" fill="#f1f7fd"/><rect x="564" y="365" width="11" height="11" fill="#c8dcf0"/><rect x="575" y="365" width="11" height="11" fill="#9ac8e0"/><rect x="586" y="365" width="11" height="11" fill="#eaf3fb"/><rect x="597" y="365" width="11" height="11" fill="#d4e4f4"/><rect x="608" y="365" width="11" height="11" fill="#f1f7fd"/><rect x="619" y="365" width="11" height="11" fill="#aacfe5"/><rect x="630" y="365" width="10" height="11" fill="#e4eff9"/><rect x="488" y="376" width="11" height="11" fill="#c4daee"/><rect x="499" y="376" width="11" height="11" fill="#a0cbe2"/><rect x="510" y="376" width="11" height="11" fill="#e1edf8"/><rect x="521" y="376" width="11" height="11" fill="#f4f9fe"/><rect x="532" y="376" width="11" height="11" fill="#a0cbe2"/><rect x="543" y="376" width="11" height="11" fill="#8cc0dd"/><rect x="554" y="376" width="10" height="11" fill="#deebf7"/><rect x="564" y="376" width="22" height="11" fill="#e4eff9"/><rect x="586" y="376" width="11" height="11" fill="#eef5fc"/><rect x="597" y="376" width="11" height="11" fill="#f4f9fe"/><rect x="608" y="376" width="11" height="11" fill="#deebf7"/><rect x="619" y="376" width="21" height="11" fill="#eef5fc"/><rect x="499" y="387" width="11" height="11" fill="#f1f7fd"/><rect x="510" y="387" width="11" height="11" fill="#f4f9fe"/><rect x="521" y="387" width="11" height="11" fill="#f1f7fd"/><rect x="532" y="387" width="22" height="11" fill="#f4f9fe"/><rect x="554" y="387" width="10" height="11" fill="#eaf3fb"/><rect x="564" y="387" width="11" height="11" fill="#aacfe5"/><rect x="575" y="387" width="11" height="11" fill="#4b98ca"/><rect x="586" y="387" width="11" height="11" fill="#deebf7"/><rect x="597" y="387" width="11" height="11" fill="#d4e4f4"/><rect x="608" y="387" width="11" height="11" fill="#eef5fc"/><rect x="619" y="387" width="11" height="11" fill="#9ac8e0"/><rect x="630" y="387" width="10" height="11" fill="#deebf7"/><rect x="510" y="398" width="11" height="11" fill="#eaf3fb"/><rect x="521" y="398" width="11" height="11" fill="#f4f9fe"/><rect x="532" y="398" width="22" height="11" fill="#f5fafe"/><rect x="554" y="398" width="10" height="11" fill="#f4f9fe"/><rect x="564" y="398" width="11" height="11" fill="#d7e6f5"/><rect x="575" y="398" width="22" height="11" fill="#f1f7fd"/><rect x="597" y="398" width="11" height="11" fill="#cbdef1"/><rect x="608" y="398" width="11" height="11" fill="#f1f7fd"/><rect x="619" y="398" width="11" height="11" fill="#d7e6f5"/><rect x="630" y="398" width="10" height="11" fill="#eaf3fb"/><rect x="521" y="409" width="11" height="11" fill="#eaf3fb"/><rect x="532" y="409" width="11" height="11" fill="#f4f9fe"/><rect x="543" y="409" width="11" height="11" fill="#f1f7fd"/><rect x="554" y="409" width="10" height="11" fill="#e4eff9"/><rect x="564" y="409" width="11" height="11" fill="#9ac8e0"/><rect x="575" y="409" width="11" height="11" fill="#0f5aa3"/><rect x="586" y="409" width="11" height="11" fill="#d1e2f3"/><rect x="597" y="409" width="11" height="11" fill="#e7f1fa"/><rect x="608" y="409" width="11" height="11" fill="#e4eff9"/><rect x="619" y="409" width="11" height="11" fill="#c8dcf0"/><rect x="630" y="409" width="10" height="11" fill="#eaf3fb"/><rect x="532" y="420" width="11" height="11" fill="#f1f7fd"/><rect x="543" y="420" width="11" height="11" fill="#f2f8fd"/><rect x="554" y="420" width="10" height="11" fill="#f1f7fd"/><rect x="564" y="420" width="11" height="11" fill="#c4daee"/><rect x="575" y="420" width="11" height="11" fill="#083877"/><rect x="586" y="420" width="11" height="11" fill="#d4e4f4"/><rect x="597" y="420" width="11" height="11" fill="#e4eff9"/><rect x="608" y="420" width="11" height="11" fill="#cbdef1"/><rect x="619" y="420" width="11" height="11" fill="#eef5fc"/><rect x="630" y="420" width="10" height="11" fill="#deebf7"/><rect x="543" y="431" width="11" height="11" fill="#f5fafe"/><rect x="554" y="431" width="10" height="11" fill="#eaf3fb"/><rect x="564" y="431" width="11" height="11" fill="#a5cde3"/><rect x="575" y="431" width="11" height="11" fill="#85bcdc"/><rect x="586" y="431" width="11" height="11" fill="#e4eff9"/><rect x="597" y="431" width="11" height="11" fill="#aacfe5"/><rect x="608" y="431" width="11" height="11" fill="#d1e2f3"/><rect x="619" y="431" width="11" height="11" fill="#519ccc"/><rect x="630" y="431" width="10" height="11" fill="#afd1e7"/><rect x="554" y="442" width="10" height="11" fill="#f4f9fe"/><rect x="564" y="442" width="11" height="11" fill="#c8dcf0"/><rect x="575" y="442" width="11" height="11" fill="#eaf3fb"/><rect x="586" y="442" width="11" height="11" fill="#f1f7fd"/><rect x="597" y="442" width="11" height="11" fill="#aacfe5"/><rect x="608" y="442" width="11" height="11" fill="#deebf7"/><rect x="619" y="442" width="11" height="11" fill="#8cc0dd"/><rect x="630" y="442" width="10" height="11" fill="#d1e2f3"/><rect x="564" y="453" width="11" height="11" fill="#d4e4f4"/><rect x="575" y="453" width="11" height="11" fill="#aacfe5"/><rect x="586" y="453" width="11" height="11" fill="#f1f7fd"/><rect x="597" y="453" width="11" height="11" fill="#eaf3fb"/><rect x="608" y="453" width="11" height="11" fill="#deebf7"/><rect x="619" y="453" width="11" height="11" fill="#eef5fc"/><rect x="630" y="453" width="10" height="11" fill="#e4eff9"/><rect x="575" y="464" width="11" height="10" fill="#f1f7fd"/><rect x="586" y="464" width="11" height="10" fill="#e7f1fa"/><rect x="597" y="464" width="11" height="10" fill="#b4d3e9"/><rect x="608" y="464" width="11" height="10" fill="#cee0f2"/><rect x="619" y="464" width="11" height="10" fill="#8cc0dd"/><rect x="630" y="464" width="10" height="10" fill="#9ac8e0"/><rect x="586" y="474" width="22" height="11" fill="#c8dcf0"/><rect x="608" y="474" width="11" height="11" fill="#4b98ca"/><rect x="619" y="474" width="11" height="11" fill="#8cc0dd"/><rect x="630" y="474" width="10" height="11" fill="#9ac8e0"/><rect x="597" y="485" width="11" height="11" fill="#dae8f6"/><rect x="608" y="485" width="11" height="11" fill="#bed8ec"/><rect x="619" y="485" width="11" height="11" fill="#d7e6f5"/><rect x="630" y="485" width="10" height="11" fill="#c8dcf0"/><rect x="608" y="496" width="11" height="11" fill="#eef5fc"/><rect x="619" y="496" width="21" height="11" fill="#f5fafe"/><rect x="619" y="507" width="11" height="11" fill="#f1f7fd"/><rect x="630" y="507" width="10" height="11" fill="#f5fafe"/><rect x="630" y="518" width="10" height="11" fill="#f4f9fe"/>
<g fill="#262626"><rect x="165" y="60" width="1" height="6"/><rect x="165" y="534" width="1" height="6"/><rect x="160" y="65" width="6" height="1"/><rect x="634" y="65" width="6" height="1"/><rect x="176" y="60" width="1" height="6"/><rect x="176" y="534" width="1" height="6"/><rect x="160" y="76" width="6" height="1"/><rect x="634" y="76" width="6" height="1"/><rect x="187" y="60" width="1" height="6"/><rect x="187" y="534" width="1" height="6"/><rect x="160" y="87" width="6" height="1"/><rect x="634" y="87" width="6" height="1"/><rect x="198" y="60" width="1" height="6"/><rect x="198" y="534" width="1" height="6"/><rect x="160" y="98" width="6" height="1"/><rect x="634" y="98" width="6" height="1"/><rect x="209" y="60" width="1" height="6"/><rect x="209" y="534" width="1" height="6"/><rect x="160" y="109" width="6" height="1"/><rect x="634" y="109" width="6" height="1"/><rect x="220" y="60" width="1" height="6"/><rect x="220" y="534" width="1" height="6"/><rect x="160" y="120" width="6" height="1"/><rect x="634" y="120" width="6" height="1"/><rect x="231" y="60" width="1" height="6"/><rect x="231" y="534" width="1" height="6"/><rect x="160" y="131" width="6" height="1"/><rect x="634" y="131" width="6" height="1"/><rect x="242" y="60" width="1" height="6"/><rect x="242" y="534" width="1" height="6"/><rect x="160" y="142" width="6" height="1"/><rect x="634" y="142" width="6" height="1"/><rect x="253" y="60" width="1" height="6"/><rect x="253" y="534" width="1" height="6"/><rect x="160" y="153" width="6" height="1"/><rect x="634" y="153" width="6" height="1"/><rect x="264" y="60" width="1" height="6"/><rect x="264" y="534" width="1" height="6"/><rect x="160" y="164" width="6" height="1"/><rect x="634" y="164" width="6" height="1"/><rect x="275" y="60" width="1" height="6"/><rect x="275" y="534" width="1" height="6"/><rect x="160" y="175" width="6" height="1"/><rect x="634" y="175" width="6" height="1"/><rect x="285" y="60" width="1" height="6"/><rect x="285" y="534" width="1" height="6"/><rect x="160" y="185" width="6" height="1"/><rect x="634" y="185" width="6" height="1"/><rect x="296" y="60" width="1" height="6"/><rect x="296" y="534" width="1" height="6"/><rect x="160" y="196" width="6" height="1"/><rect x="634" y="196" width="6" height="1"/><rect x="307" y="60" width="1" height="6"/><rect x="307" y="534" width="1" height="6"/><rect x="160" y="207" width="6" height="1"/><rect x="634" y="207" width="6" height="1"/><rect x="318" y="60" width="1" height="6"/><rect x="318" y="534" width="1" height="6"/><rect x="160" y="218" width="6" height="1"/><rect x="634" y="218" width="6" height="1"/><rect x="329" y="60" width="1" height="6"/><rect x="329" y="534" width="1" height="6"/><rect x="160" y="229" width="6" height="1"/><rect x="634" y="229" width="6" height="1"/><rect x="340" y="60" width="1" height="6"/><rect x="340" y="534" width="1" height="6"/><rect x="160" y="240" width="6" height="1"/><rect x="634" y="240" width="6" height="1"/><rect x="351" y="60" width="1" height="6"/><rect x="351" y="534" width="1" height="6"/><rect x="160" y="251" width="6" height="1"/><rect x="634" y="251" width="6" height="1"/><rect x="362" y="60" width="1" height="6"/><rect x="362" y="534" width="1" height="6"/><rect x="160" y="262" width="6" height="1"/><rect x="634" y="262" width="6" height="1"/><rect x="373" y="60" width="1" height="6"/><rect x="373" y="534" width="1" height="6"/><rect x="160" y="273" width="6" height="1"/><rect x="634" y="273" width="6" height="1"/><rect x="384" y="60" width="1" height="6"/><rect x="384" y="534" width="1" height="6"/><rect x="160" y="284" width="6" height="1"/><rect x="634" y="284" width="6" height="1"/><rect x="395" y="60" width="1" height="6"/><rect x="395" y="534" width="1" height="6"/><rect x="160" y="295" width="6" height="1"/><rect x="634" y="295" width="6" height="1"/><rect x="405" y="60" width="1" height="6"/><rect x="405" y="534" width="1" height="6"/><rect x="160" y="305" width="6" height="1"/><rect x="634" y="305" width="6" height="1"/><rect x="416" y="60" width="1" height="6"/><rect x="416" y="534" width="1" height="6"/><rect x="160" y="316" width="6" height="1"/><rect x="634" y="316" width="6" height="1"/><rect x="427" y="60" width="1" height="6"/><rect x="427" y="534" width="1" height="6"/><rect x="160" y="327" width="6" height="1"/><rect x="634" y="327" width="6" height="1"/><rect x="438" y="60" width="1" height="6"/><rect x="438" y="534" width="1" height="6"/><rect x="160" y="338" width="6" height="1"/><rect x="634" y="338" width="6" height="1"/><rect x="449" y="60" width="1" height="6"/><rect x="449" y="534" width="1" height="6"/><rect x="160" y="349" width="6" height="1"/><rect x="634" y="349" width="6" height="1"/><rect x="460" y="60" width="1" height="6"/><rect x="460" y="534" width="1" height="6"/><rect x="160" y="360" width="6" height="1"/><rect x="634" y="360" width="6" height="1"/><rect x="471" y="60" width="1" height="6"/><rect x="471" y="534" width="1" height="6"/><rect x="160" y="371" width="6" height="1"/><rect x="634" y="371" width="6" height="1"/><rect x="482" y="60" width="1" height="6"/><rect x="482" y="534" width="1" height="6"/><rect x="160" y="382" width="6" height="1"/><rect x="634" y="382" width="6" height="1"/><rect x="493" y="60" width="1" height="6"/><rect x="493" y="534" width="1" height="6"/><rect x="160" y="393" width="6" height="1"/><rect x="634" y="393" width="6" height="1"/><rect x="504" y="60" width="1" height="6"/><rect x="504" y="534" width="1" height="6"/><rect x="160" y="404" width="6" height="1"/><rect x="634" y="404" width="6" height="1"/><rect x="515" y="60" width="1" height="6"/><rect x="515" y="534" width="1" height="6"/><rect x="160" y="415" width="6" height="1"/><rect x="634" y="415" width="6" height="1"/><rect x="525" y="60" width="1" height="6"/><rect x="525" y="534" width="1" height="6"/><rect x="160" y="425" width="6" height="1"/><rect x="634" y="425" width="6" height="1"/><rect x="536" y="60" width="1" height="6"/><rect x="536" y="534" width="1" height="6"/><rect x="160" y="436" width="6" height="1"/><rect x="634" y="436" width="6" height="1"/><rect x="547" y="60" width="1" height="6"/><rect x="547" y="534" width="1" height="6"/><rect x="160" y="447" width="6" height="1"/><rect x="634" y="447" width="6" height="1"/><rect x="558" y="60" width="1" height="6"/><rect x="558" y="534" width="1" height="6"/><rect x="160" y="458" width="6" height="1"/><rect x="634" y="458" width="6" height="1"/><rect x="569" y="60" width="1" height="6"/><rect x="569" y="534" width="1" height="6"/><rect x="160" y="469" width="6" height="1"/><rect x="634" y="469" width="6" height="1"/><rect x="580" y="60" width="1" height="6"/><rect x="580" y="534" width="1" height="6"/><rect x="160" y="480" width="6" height="1"/><rect x="634" y="480" width="6" height="1"/><rect x="591" y="60" width="1" height="6"/><rect x="591" y="534" width="1" height="6"/><rect x="160" y="491" width="6" height="1"/><rect x="634" y="491" width="6" height="1"/><rect x="602" y="60" width="1" height="6"/><rect x="602" y="534" width="1" height="6"/><rect x="160" y="502" width="6" height="1"/><rect x="634" y="502" width="6" height="1"/><rect x="613" y="60" width="1" height="6"/><rect x="613" y="534" width="1" height="6"/><rect x="160" y="513" width="6" height="1"/><rect x="634" y="513" width="6" height="1"/><rect x="624" y="60" width="1" height="6"/><rect x="624" y="534" width="1" height="6"/><rect x="160" y="524" width="6" height="1"/><rect x="634" y="524" width="6" height="1"/><rect x="635" y="60" width="1" height="6"/><rect x="635" y="534" width="1" height="6"/><rect x="160" y="535" width="6" height="1"/><rect x="634" y="535" width="6" height="1"/></g>
<path d="M160.3 60.3H640.5V540.5H160.3Z" fill="none" stroke="#000" stroke-width="1.39" shape-rendering="geometricPrecision"/>
<defs><filter id="gs" x="0" y="0" width="1" height="1"><feColorMatrix type="saturate" values="0"/></filter></defs><g shape-rendering="auto" filter="url(#gs)"><text x="165.45" y="54" text-anchor="middle">C1'</text><text x="155" y="71.45" text-anchor="end">C1'</text><text x="220.00" y="54" text-anchor="middle">C4'</text><text x="155" y="126.00" text-anchor="end">C4'</text><text x="274.55" y="54" text-anchor="middle">N1</text><text x="155" y="180.55" text-anchor="end">N1</text><text x="329.09" y="54" text-anchor="middle">O2'</text><text x="155" y="235.09" text-anchor="end">O2'</text><text x="383.64" y="54" text-anchor="middle">OP2</text><text x="155" y="289.64" text-anchor="end">OP2</text><text x="438.18" y="54" text-anchor="middle">C3'</text><text x="155" y="344.18" text-anchor="end">C3'</text><text x="492.73" y="54" text-anchor="middle">C6</text><text x="155" y="398.73" text-anchor="end">C6</text><text x="547.27" y="54" text-anchor="middle">N7</text><text x="155" y="453.27" text-anchor="end">N7</text><text x="601.82" y="54" text-anchor="middle">O5'</text><text x="155" y="507.82" text-anchor="end">O5'</text></g>
<rect x="681" y="539" width="15" height="1" fill="#f7fbff"/><rect x="681" y="538" width="15" height="1" fill="#f7fbff"/><rect x="681" y="537" width="15" height="1" fill="#f6faff"/><rect x="681" y="536" width="15" height="1" fill="#f6faff"/><rect x="681" y="535" width="15" height="1" fill="#f5fafe"/><rect x="681" y="534" width="15" height="1" fill="#f5fafe"/><rect x="681" y="533" width="15" height="1" fill="#f5f9fe"/><rect x="681" y="532" width="15" height="1" fill="#f4f9fe"/><rect x="681" y="531" width="15" height="1" fill="#f4f9fe"/><rect x="681" y="530" width="15" height="1" fill="#f3f8fe"/><rect x="681" y="529" width="15" height="1" fill="#f3f8fe"/><rect x="681" y="528" width="15" height="1" fill="#f2f8fd"/><rect x="681" y="527" width="15" height="1" fill="#f2f8fd"/><rect x="681" y="526" width="15" height="1" fill="#f2f7fd"/><rect x="681" y="525" width="15" height="1" fill="#f2f7fd"/><rect x="681" y="524" width="15" height="1" fill="#f1f7fd"/><rect x="681" y="523" width="15" height="1" fill="#f1f7fd"/><rect x="681" y="522" width="15" height="1" fill="#f0f6fd"/><rect x="681" y="521" width="15" height="1" fill="#f0f6fd"/><rect x="681" y="520" width="15" height="1" fill="#eff6fc"/><rect x="681" y="519" width="15" height="1" fill="#eff6fc"/><rect x="681" y="518" width="15" height="1" fill="#eef5fc"/><rect x="681" y="517" width="15" height="1" fill="#eef5fc"/><rect x="681" y="516" width="15" height="1" fill="#eef5fc"/><rect x="681" y="515" width="15" height="1" fill="#edf4fc"/><rect x="681" y="514" width="15" height="1" fill="#edf4fc"/><rect x="681" y="513" width="15" height="1" fill="#ecf4fb"/><rect x="681" y="512" width="15" height="1" fill="#ecf4fb"/><rect x="681" y="511" width="15" height="1" fill="#ebf3fb"/><rect x="681" y="510" width="15" height="1" fill="#ebf3fb"/><rect x="681" y="509" width="15" height="1" fill="#eaf3fb"/><rect x="681" y="508" width="15" height="1" fill="#eaf3fb"/><rect x="681" y="507" width="15" height="1" fill="#eaf2fb"/><rect x="681" y="506" width="15" height="1" fill="#eaf2fb"/><rect x="681" y="505" width="15" height="1" fill="#e9f2fa"/><rect x="681" y="504" width="15" height="1" fill="#e9f2fa"/><rect x="681" y="503" width="15" height="1" fill="#e8f1fa"/><rect x="681" y="502" width="15" height="1" fill="#e7f1fa"/><rect x="681" y="501" width="15" height="1" fill="#e7f1fa"/><rect x="681" y="500" width="15" height="1" fill="#e7f0fa"/><rect x="681" y="499" width="15" height="1" fill="#e7f0fa"/><rect x="681" y="498" width="15" height="1" fill="#e6f0f9"/><rect x="681" y="497" width="15" height="1" fill="#e6f0f9"/><rect x="681" y="496" width="15" height="1" fill="#e5eff9"/><rect x="681" y="495" width="15" height="1" fill="#e5eff9"/><rect x="681" y="494" width="15" height="1" fill="#e4eff9"/><rect x="681" y="493" width="15" height="1" fill="#e4eff9"/><rect x="681" y="492" width="15" height="1" fill="#e3eef9"/><rect x="681" y="491" width="15" height="1" fill="#e3eef9"/><rect x="681" y="490" width="15" height="1" fill="#e3eef8"/><rect x="681" y="489" width="15" height="1" fill="#e3eef8"/><rect x="681" y="488" width="15" height="1" fill="#e2edf8"/><rect x="681" y="487" width="15" height="1" fill="#e2edf8"/><rect x="681" y="486" width="15" height="1" fill="#e1edf8"/><rect x="681" y="485" width="15" height="1" fill="#e0ecf8"/><rect x="681" y="484" width="15" height="1" fill="#e0ecf8"/><rect x="681" y="483" width="15" height="1" fill="#dfecf7"/><rect x="681" y="482" width="15" height="1" fill="#dfecf7"/><rect x="681" y="481" width="15" height="1" fill="#dfebf7"/><rect x="681" y="480" width="15" height="1" fill="#dfebf7"/><rect x="681" y="479" width="15" height="1" fill="#deebf7"/><rect x="681" y="478" width="15" height="1" fill="#deebf7"/><rect x="681" y="477" width="15" height="1" fill="#ddeaf7"/><rect x="681" y="476" width="15" height="1" fill="#ddeaf7"/><rect x="681" y="475" width="15" height="1" fill="#dceaf6"/><rect x="681" y="474" width="15" height="1" fill="#dceaf6"/><rect x="681" y="473" width="15" height="1" fill="#dce9f6"/><rect x="681" y="472" width="15" height="1" fill="#dbe9f6"/><rect x="681" y="471" width="15" height="1" fill="#dbe9f6"/><rect x="681" y="470" width="15" height="1" fill="#dae8f6"/><rect x="681" y="469" width="15" height="1" fill="#dae8f6"/><rect x="681" y="468" width="15" height="1" fill="#d9e8f5"/><rect x="681" y="467" width="15" height="1" fill="#d9e8f5"/><rect x="681" y="466" width="15" height="1" fill="#d9e7f5"/><rect x="681" y="465" width="15" height="1" fill="#d9e7f5"/><rect x="681" y="464" width="15" height="1" fill="#d8e7f5"/><rect x="681" y="463" width="15" height="1" fill="#d8e7f5"/><rect x="681" y="462" width="15" height="1" fill="#d7e6f5"/><rect x="681" y="461" width="15" height="1" fill="#d7e6f5"/><rect x="681" y="460" width="15" height="1" fill="#d6e6f4"/><rect x="681" y="459" width="15" height="1" fill="#d6e6f4"/><rect x="681" y="458" width="15" height="1" fill="#d6e5f4"/><rect x="681" y="457" width="15" height="1" fill="#d5e5f4"/><rect x="681" y="456" width="15" height="1" fill="#d5e5f4"/><rect x="681" y="455" width="15" height="1" fill="#d4e4f4"/><rect x="681" y="454" width="15" height="1" fill="#d4e4f4"/><rect x="681" y="453" width="15" height="1" fill="#d3e4f3"/><rect x="681" y="452" width="15" height="1" fill="#d3e4f3"/><rect x="681" y="451" width="15" height="1" fill="#d3e3f3"/><rect x="681" y="450" width="15" height="1" fill="#d3e3f3"/><rect x="681" y="449" width="15" height="1" fill="#d2e3f3"/><rect x="681" y="448" width="15" height="1" fill="#d2e3f3"/><rect x="681" y="447" width="15" height="1" fill="#d1e2f3"/><rect x="681" y="446" width="15" height="1" fill="#d1e2f3"/><rect x="681" y="445" width="15" height="1" fill="#d0e2f2"/><rect x="681" y="444" width="15" height="1" fill="#d0e2f2"/><rect x="681" y="443" width="15" height="1" fill="#d0e1f2"/><rect x="681" y="442" width="15" height="1" fill="#cfe1f2"/><rect x="681" y="441" width="15" height="1" fill="#cfe1f2"/><rect x="681" y="440" width="15" height="1" fill="#cee0f2"/><rect x="681" y="439" width="15" height="1" fill="#cee0f2"/><rect x="681" y="438" width="15" height="1" fill="#cde0f1"/><rect x="681" y="437" width="15" height="1" fill="#cde0f1"/><rect x="681" y="436" width="15" height="1" fill="#cddff1"/><rect x="681" y="435" width="15" height="1" fill="#cddff1"/><rect x="681" y="434" width="15" height="1" fill="#ccdff1"/><rect x="681" y="433" width="15" height="1" fill="#ccdff1"/><rect x="681" y="432" width="15" height="1" fill="#cbdef1"/><rect x="681" y="431" width="15" height="1" fill="#cbdef1"/><rect x="681" y="430" width="15" height="1" fill="#cadef0"/><rect x="681" y="429" width="15" height="1" fill="#cadef0"/><rect x="681" y="428" width="15" height="1" fill="#caddf0"/><rect x="681" y="427" width="15" height="1" fill="#c9ddf0"/><rect x="681" y="426" width="15" height="1" fill="#c9ddf0"/><rect x="681" y="425" width="15" height="1" fill="#c8dcf0"/><rect x="681" y="424" width="15" height="1" fill="#c8dcf0"/><rect x="681" y="423" width="15" height="1" fill="#c7dcef"/><rect x="681" y="422" width="15" height="1" fill="#c7dcef"/><rect x="681" y="421" width="15" height="1" fill="#c7dbef"/><rect x="681" y="420" width="15" height="1" fill="#c7dbef"/><rect x="681" y="419" width="15" height="1" fill="#c6dbef"/><rect x="681" y="418" width="15" height="1" fill="#c6dbef"/><rect x="681" y="417" width="15" height="1" fill="#c4daee"/><rect x="681" y="416" width="15" height="1" fill="#c4daee"/><rect x="681" y="415" width="15" height="1" fill="#c3daee"/><rect x="681" y="414" width="15" height="1" fill="#c3daee"/><rect x="681" y="413" width="15" height="1" fill="#c2d9ee"/><rect x="681" y="412" width="15" height="1" fill="#c1d9ed"/><rect x="681" y="411" width="15" height="1" fill="#c1d9ed"/><rect x="681" y="410" width="15" height="1" fill="#bfd8ed"/><rect x="681" y="409" width="15" height="1" fill="#bfd8ed"/><rect x="681" y="408" width="15" height="1" fill="#bed8ec"/><rect x="681" y="407" width="15" height="1" fill="#bed8ec"/><rect x="681" y="406" width="15" height="1" fill="#bdd7ec"/><rect x="681" y="405" width="15" height="1" fill="#bdd7ec"/><rect x="681" y="404" width="15" height="1" fill="#bcd7eb"/><rect x="681" y="403" width="15" height="1" fill="#bcd7eb"/><rect x="681" y="402" width="15" height="1" fill="#bad6eb"/><rect x="681" y="401" width="15" height="1" fill="#bad6eb"/><rect x="681" y="400" width="15" height="1" fill="#b9d6ea"/><rect x="681" y="399" width="15" height="1" fill="#b9d6ea"/><rect x="681" y="398" width="15" height="1" fill="#b8d5ea"/><rect x="681" y="397" width="15" height="1" fill="#b7d4ea"/><rect x="681" y="396" width="15" height="1" fill="#b7d4ea"/><rect x="681" y="395" width="15" height="1" fill="#b5d4e9"/><rect x="681" y="394" width="15" height="1" fill="#b5d4e9"/><rect x="681" y="393" width="15" height="1" fill="#b4d3e9"/><rect x="681" y="392" width="15" height="1" fill="#b4d3e9"/><rect x="681" y="391" width="15" height="1" fill="#b3d3e8"/><rect x="681" y="390" width="15" height="1" fill="#b3d3e8"/><rect x="681" y="389" width="15" height="1" fill="#b2d2e8"/><rect x="681" y="388" width="15" height="1" fill="#b2d2e8"/><rect x="681" y="387" width="15" height="1" fill="#b0d2e7"/><rect x="681" y="386" width="15" height="1" fill="#b0d2e7"/><rect x="681" y="385" width="15" height="1" fill="#afd1e7"/><rect x="681" y="384" width="15" height="1" fill="#afd1e7"/><rect x="681" y="383" width="15" height="1" fill="#aed1e7"/><rect x="681" y="382" width="15" height="1" fill="#add0e6"/><rect x="681" y="381" width="15" height="1" fill="#add0e6"/><rect x="681" y="380" width="15" height="1" fill="#abd0e6"/><rect x="681" y="379" width="15" height="1" fill="#abd0e6"/><rect x="681" y="378" width="15" height="1" fill="#aacfe5"/><rect x="681" y="377" width="15" height="1" fill="#aacfe5"/><rect x="681" y="376" width="15" height="1" fill="#a9cfe5"/><rect x="681" y="375" width="15" height="1" fill="#a9cfe5"/><rect x="681" y="374" width="15" height="1" fill="#a8cee4"/><rect x="681" y="373" width="15" height="1" fill="#a8cee4"/><rect x="681" y="372" width="15" height="1" fill="#a6cee4"/><rect x="681" y="371" width="15" height="1" fill="#a6cee4"/><rect x="681" y="370" width="15" height="1" fill="#a5cde3"/><rect x="681" y="369" width="15" height="1" fill="#a5cde3"/><rect x="681" y="368" width="15" height="1" fill="#a4cce3"/><rect x="681" y="367" width="15" height="1" fill="#a3cce3"/><rect x="681" y="366" width="15" height="1" fill="#a3cce3"/><rect x="681" y="365" width="15" height="1" fill="#a1cbe2"/><rect x="681" y="364" width="15" height="1" fill="#a1cbe2"/><rect x="681" y="363" width="15" height="1" fill="#a0cbe2"/><rect x="681" y="362" width="15" height="1" fill="#a0cbe2"/><rect x="681" y="361" width="15" height="1" fill="#9fcae1"/><rect x="681" y="360" width="15" height="1" fill="#9fcae1"/><rect x="681" y="359" width="15" height="1" fill="#9dcae1"/><rect x="681" y="358" width="15" height="1" fill="#9dcae1"/><rect x="681" y="357" width="15" height="1" fill="#9cc9e1"/><rect x="681" y="356" width="15" height="1" fill="#9cc9e1"/><rect x="681" y="355" width="15" height="1" fill="#9ac8e0"/><rect x="681" y="354" width="15" height="1" fill="#9ac8e0"/><rect x="681" y="353" width="15" height="1" fill="#99c7e0"/><rect x="681" y="352" width="15" height="1" fill="#97c6df"/><rect x="681" y="351" width="15" height="1" fill="#97c6df"/><rect x="681" y="350" width="15" height="1" fill="#95c5df"/><rect x="681" y="349" width="15" height="1" fill="#95c5df"/><rect x="681" y="348" width="15" height="1" fill="#94c4df"/><rect x="681" y="347" width="15" height="1" fill="#94c4df"/><rect x="681" y="346" width="15" height="1" fill="#92c4de"/><rect x="681" y="345" width="15" height="1" fill="#92c4de"/><rect x="681" y="344" width="15" height="1" fill="#91c3de"/><rect x="681" y="343" width="15" height="1" fill="#91c3de"/><rect x="681" y="342" width="15" height="1" fill="#8fc2de"/><rect x="681" y="341" width="15" height="1" fill="#8fc2de"/><rect x="681" y="340" width="15" height="1" fill="#8dc1dd"/><rect x="681" y="339" width="15" height="1" fill="#8dc1dd"/><rect x="681" y="338" width="15" height="1" fill="#8cc0dd"/><rect x="681" y="337" width="15" height="1" fill="#8abfdd"/><rect x="681" y="336" width="15" height="1" fill="#8abfdd"/><rect x="681" y="335" width="15" height="1" fill="#89bedc"/><rect x="681" y="334" width="15" height="1" fill="#89bedc"/><rect x="681" y="333" width="15" height="1" fill="#87bddc"/><rect x="681" y="332" width="15" height="1" fill="#87bddc"/><rect x="681" y="331" width="15" height="1" fill="#85bcdc"/><rect x="681" y="330" width="15" height="1" fill="#85bcdc"/><rect x="681" y="329" width="15" height="1" fill="#84bcdb"/><rect x="681" y="328" width="15" height="1" fill="#84bcdb"/><rect x="681" y="327" width="15" height="1" fill="#82bbdb"/><rect x="681" y="326" width="15" height="1" fill="#82bbdb"/><rect x="681" y="325" width="15" height="1" fill="#81badb"/><rect x="681" y="324" width="15" height="1" fill="#81badb"/><rect x="681" y="323" width="15" height="1" fill="#7fb9da"/><rect x="681" y="322" width="15" height="1" fill="#7db8da"/><rect x="681" y="321" width="15" height="1" fill="#7db8da"/><rect x="681" y="320" width="15" height="1" fill="#7cb7da"/><rect x="681" y="319" width="15" height="1" fill="#7cb7da"/><rect x="681" y="318" width="15" height="1" fill="#7ab6d9"/><rect x="681" y="317" width="15" height="1" fill="#7ab6d9"/><rect x="681" y="316" width="15" height="1" fill="#79b5d9"/><rect x="681" y="315" width="15" height="1" fill="#79b5d9"/><rect x="681" y="314" width="15" height="1" fill="#77b5d9"/><rect x="681" y="313" width="15" height="1" fill="#77b5d9"/><rect x="681" y="312" width="15" height="1" fill="#75b4d8"/><rect x="681" y="311" width="15" height="1" fill="#75b4d8"/><rect x="681" y="310" width="15" height="1" fill="#74b3d8"/><rect x="681" y="309" width="15" height="1" fill="#74b3d8"/><rect x="681" y="308" width="15" height="1" fill="#72b2d8"/><rect x="681" y="307" width="15" height="1" fill="#71b1d7"/><rect x="681" y="306" width="15" height="1" fill="#71b1d7"/><rect x="681" y="305" width="15" height="1" fill="#6fb0d7"/><rect x="681" y="304" width="15" height="1" fill="#6fb0d7"/><rect x="681" y="303" width="15" height="1" fill="#6dafd7"/><rect x="681" y="302" width="15" height="1" fill="#6dafd7"/><rect x="681" y="301" width="15" height="1" fill="#6caed6"/><rect x="681" y="300" width="15" height="1" fill="#6caed6"/><rect x="681" y="299" width="15" height="1" fill="#6aaed6"/><rect x="681" y="298" width="15" height="1" fill="#6aaed6"/><rect x="681" y="297" width="15" height="1" fill="#69add5"/><rect x="681" y="296" width="15" height="1" fill="#69add5"/><rect x="681" y="295" width="15" height="1" fill="#68acd5"/><rect x="681" y="294" width="15" height="1" fill="#68acd5"/><rect x="681" y="293" width="15" height="1" fill="#66abd4"/><rect x="681" y="292" width="15" height="1" fill="#65aad4"/><rect x="681" y="291" width="15" height="1" fill="#65aad4"/><rect x="681" y="290" width="15" height="1" fill="#64a9d3"/><rect x="681" y="289" width="15" height="1" fill="#64a9d3"/><rect x="681" y="288" width="15" height="1" fill="#63a8d3"/><rect x="681" y="287" width="15" height="1" fill="#63a8d3"/><rect x="681" y="286" width="15" height="1" fill="#61a7d2"/><rect x="681" y="285" width="15" height="1" fill="#61a7d2"/><rect x="681" y="284" width="15" height="1" fill="#60a7d2"/><rect x="681" y="283" width="15" height="1" fill="#60a7d2"/><rect x="681" y="282" width="15" height="1" fill="#5fa6d1"/><rect x="681" y="281" width="15" height="1" fill="#5fa6d1"/><rect x="681" y="280" width="15" height="1" fill="#5da5d1"/><rect x="681" y="279" width="15" height="1" fill="#5da5d1"/><rect x="681" y="278" width="15" height="1" fill="#5ca4d0"/><rect x="681" y="277" width="15" height="1" fill="#5ba3d0"/><rect x="681" y="276" width="15" height="1" fill="#5ba3d0"/><rect x="681" y="275" width="15" height="1" fill="#5aa2cf"/><rect x="681" y="274" width="15" height="1" fill="#5aa2cf"/><rect x="681" y="273" width="15" height="1" fill="#58a1cf"/><rect x="681" y="272" width="15" height="1" fill="#58a1cf"/><rect x="681" y="271" width="15" height="1" fill="#57a0ce"/><rect x="681" y="270" width="15" height="1" fill="#57a0ce"/><rect x="681" y="269" width="15" height="1" fill="#56a0ce"/><rect x="681" y="268" width="15" height="1" fill="#56a0ce"/><rect x="681" y="267" width="15" height="1" fill="#549fcd"/><rect x="681" y="266" width="15" height="1" fill="#549fcd"/><rect x="681" y="265" width="15" height="1" fill="#539ecd"/><rect x="681" y="264" width="15" height="1" fill="#539ecd"/><rect x="681" y="263" width="15" height="1" fill="#529dcc"/><rect x="681" y="262" width="15" height="1" fill="#519ccc"/><rect x="681" y="261" width="15" height="1" fill="#519ccc"/><rect x="681" y="260" width="15" height="1" fill="#4f9bcb"/><rect x="681" y="259" width="15" height="1" fill="#4f9bcb"/><rect x="681" y="258" width="15" height="1" fill="#4e9acb"/><rect x="681" y="257" width="15" height="1" fill="#4e9acb"/><rect x="681" y="256" width="15" height="1" fill="#4d99ca"/><rect x="681" y="255" width="15" height="1" fill="#4d99ca"/><rect x="681" y="254" width="15" height="1" fill="#4b98ca"/><rect x="681" y="253" width="15" height="1" fill="#4b98ca"/><rect x="681" y="252" width="15" height="1" fill="#4a98c9"/><rect x="681" y="251" width="15" height="1" fill="#4a98c9"/><rect x="681" y="250" width="15" height="1" fill="#4997c9"/><rect x="681" y="249" width="15" height="1" fill="#4997c9"/><rect x="681" y="248" width="15" height="1" fill="#4896c8"/><rect x="681" y="247" width="15" height="1" fill="#4695c8"/><rect x="681" y="246" width="15" height="1" fill="#4695c8"/><rect x="681" y="245" width="15" height="1" fill="#4594c7"/><rect x="681" y="244" width="15" height="1" fill="#4594c7"/><rect x="681" y="243" width="15" height="1" fill="#4493c7"/><rect x="681" y="242" width="15" height="1" fill="#4493c7"/><rect x="681" y="241" width="15" height="1" fill="#4292c6"/><rect x="681" y="240" width="15" height="1" fill="#4292c6"/><rect x="681" y="239" width="15" height="1" fill="#4191c6"/><rect x="681" y="238" width="15" height="1" fill="#4191c6"/><rect x="681" y="237" width="15" height="1" fill="#4090c5"/><rect x="681" y="236" width="15" height="1" fill="#4090c5"/><rect x="681" y="235" width="15" height="1" fill="#3f8fc5"/><rect x="681" y="234" width="15" height="1" fill="#3f8fc5"/><rect x="681" y="233" width="15" height="1" fill="#3e8ec4"/><rect x="681" y="232" width="15" height="1" fill="#3d8dc4"/><rect x="681" y="231" width="15" height="1" fill="#3d8dc4"/><rect x="681" y="230" width="15" height="1" fill="#3c8cc3"/><rect x="681" y="229" width="15" height="1" fill="#3c8cc3"/><rect x="681" y="228" width="15" height="1" fill="#3b8bc2"/><rect x="681" y="227" width="15" height="1" fill="#3b8bc2"/><rect x="681" y="226" width="15" height="1" fill="#3a8ac2"/><rect x="681" y="225" width="15" height="1" fill="#3a8ac2"/><rect x="681" y="224" width="15" height="1" fill="#3989c1"/><rect x="681" y="223" width="15" height="1" fill="#3989c1"/><rect x="681" y="222" width="15" height="1" fill="#3888c1"/><rect x="681" y="221" width="15" height="1" fill="#3888c1"/><rect x="681" y="220" width="15" height="1" fill="#3787c0"/><rect x="681" y="219" width="15" height="1" fill="#3787c0"/><rect x="681" y="218" width="15" height="1" fill="#3686c0"/><rect x="681" y="217" width="15" height="1" fill="#3585bf"/><rect x="681" y="216" width="15" height="1" fill="#3585bf"/><rect x="681" y="215" width="15" height="1" fill="#3484bf"/><rect x="681" y="214" width="15" height="1" fill="#3484bf"/><rect x="681" y="213" width="15" height="1" fill="#3383be"/><rect x="681" y="212" width="15" height="1" fill="#3383be"/><rect x="681" y="211" width="15" height="1" fill="#3282be"/><rect x="681" y="210" width="15" height="1" fill="#3282be"/><rect x="681" y="209" width="15" height="1" fill="#3181bd"/><rect x="681" y="208" width="15" height="1" fill="#3181bd"/><rect x="681" y="207" width="15" height="1" fill="#3080bd"/><rect x="681" y="206" width="15" height="1" fill="#3080bd"/><rect x="681" y="205" width="15" height="1" fill="#2f7fbc"/><rect x="681" y="204" width="15" height="1" fill="#2f7fbc"/><rect x="681" y="203" width="15" height="1" fill="#2e7ebc"/><rect x="681" y="202" width="15" height="1" fill="#2d7dbb"/><rect x="681" y="201" width="15" height="1" fill="#2d7dbb"/><rect x="681" y="200" width="15" height="1" fill="#2c7cba"/><rect x="681" y="199" width="15" height="1" fill="#2c7cba"/><rect x="681" y="198" width="15" height="1" fill="#2b7bba"/><rect x="681" y="197" width="15" height="1" fill="#2b7bba"/><rect x="681" y="196" width="15" height="1" fill="#2a7ab9"/><rect x="681" y="195" width="15" height="1" fill="#2a7ab9"/><rect x="681" y="194" width="15" height="1" fill="#2979b9"/><rect x="681" y="193" width="15" height="1" fill="#2979b9"/><rect x="681" y="192" width="15" height="1" fill="#2777b8"/><rect x="681" y="191" width="15" height="1" fill="#2777b8"/><rect x="681" y="190" width="15" height="1" fill="#2676b8"/><rect x="681" y="189" width="15" height="1" fill="#2676b8"/><rect x="681" y="188" width="15" height="1" fill="#2575b7"/><rect x="681" y="187" width="15" height="1" fill="#2474b7"/><rect x="681" y="186" width="15" height="1" fill="#2474b7"/><rect x="681" y="185" width="15" height="1" fill="#2373b6"/><rect x="681" y="184" width="15" height="1" fill="#2373b6"/><rect x="681" y="183" width="15" height="1" fill="#2272b6"/><rect x="681" y="182" width="15" height="1" fill="#2272b6"/><rect x="681" y="181" width="15" height="1" fill="#2171b5"/><rect x="681" y="180" width="15" height="1" fill="#2171b5"/><rect x="681" y="179" width="15" height="1" fill="#2070b4"/><rect x="681" y="178" width="15" height="1" fill="#2070b4"/><rect x="681" y="177" width="15" height="1" fill="#206fb4"/><rect x="681" y="176" width="15" height="1" fill="#206fb4"/><rect x="681" y="175" width="15" height="1" fill="#1f6eb3"/><rect x="681" y="174" width="15" height="1" fill="#1f6eb3"/><rect x="681" y="173" width="15" height="1" fill="#1e6db2"/><rect x="681" y="172" width="15" height="1" fill="#1d6cb1"/><rect x="681" y="171" width="15" height="1" fill="#1d6cb1"/><rect x="681" y="170" width="15" height="1" fill="#1c6bb0"/><rect x="681" y="169" width="15" height="1" fill="#1c6bb0"/><rect x="681" y="168" width="15" height="1" fill="#1c6ab0"/><rect x="681" y="167" width="15" height="1" fill="#1c6ab0"/><rect x="681" y="166" width="15" height="1" fill="#1b69af"/><rect x="681" y="165" width="15" height="1" fill="#1b69af"/><rect x="681" y="164" width="15" height="1" fill="#1a68ae"/><rect x="681" y="163" width="15" height="1" fill="#1a68ae"/><rect x="681" y="162" width="15" height="1" fill="#1967ad"/><rect x="681" y="161" width="15" height="1" fill="#1967ad"/><rect x="681" y="160" width="15" height="1" fill="#1966ad"/><rect x="681" y="159" width="15" height="1" fill="#1966ad"/><rect x="681" y="158" width="15" height="1" fill="#1865ac"/><rect x="681" y="157" width="15" height="1" fill="#1764ab"/><rect x="681" y="156" width="15" height="1" fill="#1764ab"/><rect x="681" y="155" width="15" height="1" fill="#1663aa"/><rect x="681" y="154" width="15" height="1" fill="#1663aa"/><rect x="681" y="153" width="15" height="1" fill="#1562a9"/><rect x="681" y="152" width="15" height="1" fill="#1562a9"/><rect x="681" y="151" width="15" height="1" fill="#1561a9"/><rect x="681" y="150" width="15" height="1" fill="#1561a9"/><rect x="681" y="149" width="15" height="1" fill="#1460a8"/><rect x="681" y="148" width="15" height="1" fill="#1460a8"/><rect x="681" y="147" width="15" height="1" fill="#135fa7"/><rect x="681" y="146" width="15" height="1" fill="#135fa7"/><rect x="681" y="145" width="15" height="1" fill="#125ea6"/><rect x="681" y="144" width="15" height="1" fill="#125ea6"/><rect x="681" y="143" width="15" height="1" fill="#125da6"/><rect x="681" y="142" width="15" height="1" fill="#125da6"/><rect x="681" y="141" width="15" height="1" fill="#115ca5"/><rect x="681" y="140" width="15" height="1" fill="#105ba4"/><rect x="681" y="139" width="15" height="1" fill="#105ba4"/><rect x="681" y="138" width="15" height="1" fill="#0f5aa3"/><rect x="681" y="137" width="15" height="1" fill="#0f5aa3"/><rect x="681" y="136" width="15" height="1" fill="#0e59a2"/><rect x="681" y="135" width="15" height="1" fill="#0e59a2"/><rect x="681" y="134" width="15" height="1" fill="#0e58a2"/><rect x="681" y="133" width="15" height="1" fill="#0e58a2"/><rect x="681" y="132" width="15" height="1" fill="#0d57a1"/><rect x="681" y="131" width="15" height="1" fill="#0d57a1"/><rect x="681" y="130" width="15" height="1" fill="#0c56a0"/><rect x="681" y="129" width="15" height="1" fill="#0c56a0"/><rect x="681" y="128" width="15" height="1" fill="#0b559f"/><rect x="681" y="127" width="15" height="1" fill="#0a549e"/><rect x="681" y="126" width="15" height="1" fill="#0a549e"/><rect x="681" y="125" width="15" height="1" fill="#0a539e"/><rect x="681" y="124" width="15" height="1" fill="#0a539e"/><rect x="681" y="123" width="15" height="1" fill="#09529d"/><rect x="681" y="122" width="15" height="1" fill="#09529d"/><rect x="681" y="121" width="15" height="1" fill="#08519c"/><rect x="681" y="120" width="15" height="1" fill="#08519c"/><rect x="681" y="119" width="15" height="1" fill="#08509b"/><rect x="681" y="118" width="15" height="1" fill="#08509b"/><rect x="681" y="117" width="15" height="1" fill="#084f99"/><rect x="681" y="116" width="15" height="1" fill="#084f99"/><rect x="681" y="115" width="15" height="1" fill="#084e98"/><rect x="681" y="114" width="15" height="1" fill="#084e98"/><rect x="681" y="113" width="15" height="1" fill="#084d96"/><rect x="681" y="112" width="15" height="1" fill="#084c95"/><rect x="681" y="111" width="15" height="1" fill="#084c95"/><rect x="681" y="110" width="15" height="1" fill="#084b93"/><rect x="681" y="109" width="15" height="1" fill="#084b93"/><rect x="681" y="108" width="15" height="1" fill="#084a91"/><rect x="681" y="107" width="15" height="1" fill="#084a91"/><rect x="681" y="106" width="15" height="1" fill="#084990"/><rect x="681" y="105" width="15" height="1" fill="#084990"/><rect x="681" y="104" width="15" height="1" fill="#08488e"/><rect x="681" y="103" width="15" height="1" fill="#08488e"/><rect x="681" y="102" width="15" height="1" fill="#08478d"/><rect x="681" y="101" width="15" height="1" fill="#08478d"/><rect x="681" y="100" width="15" height="1" fill="#08468b"/><rect x="681" y="99" width="15" height="1" fill="#08468b"/><rect x="681" y="98" width="15" height="1" fill="#08458a"/><rect x="681" y="97" width="15" height="1" fill="#084488"/><rect x="681" y="96" width="15" height="1" fill="#084488"/><rect x="681" y="95" width="15" height="1" fill="#084387"/><rect x="681" y="94" width="15" height="1" fill="#084387"/><rect x="681" y="93" width="15" height="1" fill="#084285"/><rect x="681" y="92" width="15" height="1" fill="#084285"/><rect x="681" y="91" width="15" height="1" fill="#084184"/><rect x="681" y="90" width="15" height="1" fill="#084184"/><rect x="681" y="89" width="15" height="1" fill="#084082"/><rect x="681" y="88" width="15" height="1" fill="#084082"/><rect x="681" y="87" width="15" height="1" fill="#083e81"/><rect x="681" y="86" width="15" height="1" fill="#083e81"/><rect x="681" y="85" width="15" height="1" fill="#083d7f"/><rect x="681" y="84" width="15" height="1" fill="#083d7f"/><rect x="681" y="83" width="15" height="1" fill="#083c7d"/><rect x="681" y="82" width="15" height="1" fill="#083b7c"/><rect x="681" y="81" width="15" height="1" fill="#083b7c"/><rect x="681" y="80" width="15" height="1" fill="#083a7a"/><rect x="681" y="79" width="15" height="1" fill="#083a7a"/><rect x="681" y="78" width="15" height="1" fill="#083979"/><rect x="681" y="77" width="15" height="1" fill="#083979"/><rect x="681" y="76" width="15" height="1" fill="#083877"/><rect x="681" y="75" width="15" height="1" fill="#083877"/><rect x="681" y="74" width="15" height="1" fill="#083776"/><rect x="681" y="73" width="15" height="1" fill="#083776"/><rect x="681" y="72" width="15" height="1" fill="#083674"/><rect x="681" y="71" width="15" height="1" fill="#083674"/><rect x="681" y="70" width="15" height="1" fill="#083573"/><rect x="681" y="69" width="15" height="1" fill="#083573"/><rect x="681" y="68" width="15" height="1" fill="#083471"/><rect x="681" y="67" width="15" height="1" fill="#083471"/><rect x="681" y="66" width="15" height="1" fill="#083370"/><rect x="681" y="65" width="15" height="1" fill="#08326e"/><rect x="681" y="64" width="15" height="1" fill="#08326e"/><rect x="681" y="63" width="15" height="1" fill="#08316d"/><rect x="681" y="62" width="15" height="1" fill="#08316d"/><rect x="681" y="61" width="15" height="1" fill="#08306b"/><rect x="681" y="60" width="15" height="1" fill="#08306b"/>
<g fill="#000" filter="url(#gs)"><text transform="translate(701.6 545.70) scale(1.1 1)">0.00</text><rect x="690" y="478" width="6" height="1"/><text transform="translate(701.6 483.86) scale(1.1 1)">0.08</text><rect x="690" y="416" width="6" height="1"/><text transform="translate(701.6 422.03) scale(1.1 1)">0.16</text><rect x="690" y="354" width="6" height="1"/><text transform="translate(701.6 360.19) scale(1.1 1)">0.24</text><rect x="690" y="292" width="6" height="1"/><text transform="translate(701.6 298.36) scale(1.1 1)">0.32</text><rect x="690" y="230" width="6" height="1"/><text transform="translate(701.6 236.52) scale(1.1 1)">0.40</text><rect x="690" y="168" width="6" height="1"/><text transform="translate(701.6 174.69) scale(1.1 1)">0.48</text><rect x="690" y="107" width="6" height="1"/><text transform="translate(701.6 112.85) scale(1.1 1)">0.56</text></g>
<path d="M680.3 60.3H696.5V540.5H680.3Z" fill="none" stroke="#000" stroke-width="1.39" shape-rendering="geometricPrecision"/>
</svg></body></html>
